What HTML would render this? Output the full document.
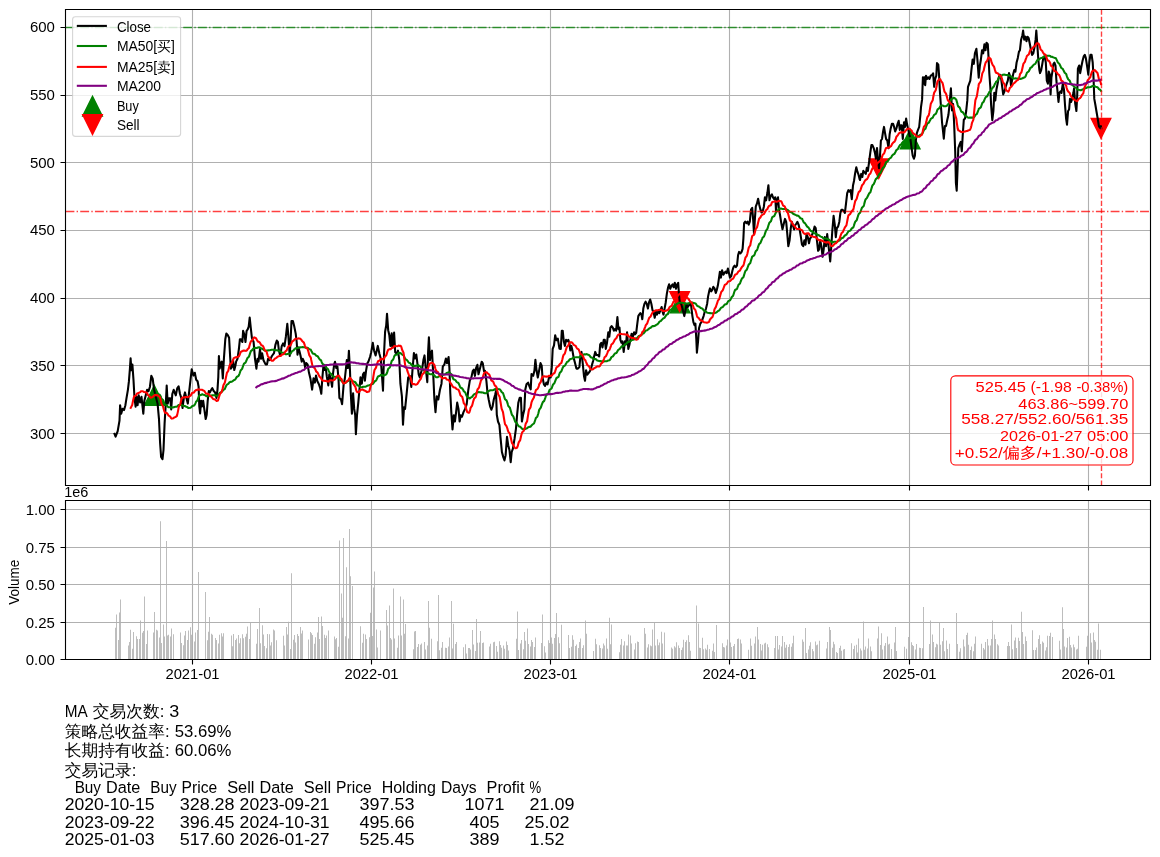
<!DOCTYPE html>
<html><head><meta charset="utf-8"><title>MA strategy</title><style>html,body{margin:0;padding:0;background:#fff;overflow:hidden}svg{display:block}</style></head><body>
<svg width="1160" height="857" viewBox="0 0 1160 857"><rect width="1160" height="857" fill="#fff"/><path d="M115 627.7h1v31.3h-1zM116 614.5h1v44.5h-1zM118 640.1h1v18.9h-1zM119 612.4h1v46.6h-1zM120 599.5h1v59.5h-1zM128 645.5h1v13.5h-1zM129 642.1h1v16.9h-1zM130 629.7h1v29.3h-1zM132 648.7h1v10.3h-1zM133 632.0h1v27.0h-1zM136 636.2h1v22.8h-1zM137 639.0h1v20.0h-1zM139 639.0h1v20.0h-1zM140 620.5h1v38.5h-1zM142 632.8h1v26.2h-1zM143 631.0h1v28.0h-1zM144 596.5h1v62.5h-1zM146 644.1h1v14.9h-1zM147 630.5h1v28.5h-1zM153 632.6h1v26.4h-1zM154 611.9h1v47.1h-1zM156 629.8h1v29.2h-1zM157 630.6h1v28.4h-1zM159 637.5h1v21.5h-1zM160 521.3h1v137.7h-1zM161 642.9h1v16.1h-1zM163 624.5h1v34.5h-1zM164 636.6h1v22.4h-1zM166 541.1h1v117.9h-1zM167 635.4h1v23.6h-1zM168 634.7h1v24.3h-1zM170 636.4h1v22.6h-1zM171 628.4h1v30.6h-1zM173 634.3h1v24.7h-1zM180 632.6h1v26.4h-1zM181 643.0h1v16.0h-1zM183 645.3h1v13.7h-1zM184 635.5h1v23.5h-1zM185 630.9h1v28.1h-1zM187 639.9h1v19.1h-1zM188 630.5h1v28.5h-1zM190 627.2h1v31.8h-1zM191 634.7h1v24.3h-1zM194 641.5h1v17.5h-1zM195 632.5h1v26.5h-1zM197 630.1h1v28.9h-1zM198 572.1h1v86.9h-1zM205 592.0h1v67.0h-1zM207 640.3h1v18.7h-1zM208 631.8h1v27.2h-1zM209 617.1h1v41.9h-1zM211 633.8h1v25.2h-1zM212 634.7h1v24.3h-1zM215 638.1h1v20.9h-1zM216 640.1h1v18.9h-1zM218 643.4h1v15.6h-1zM219 634.8h1v24.2h-1zM221 633.2h1v25.8h-1zM222 636.4h1v22.6h-1zM223 633.3h1v25.7h-1zM231 635.6h1v23.4h-1zM232 646.2h1v12.8h-1zM233 633.9h1v25.1h-1zM235 640.1h1v18.9h-1zM236 638.5h1v20.5h-1zM238 635.1h1v23.9h-1zM239 643.3h1v15.7h-1zM240 638.3h1v20.7h-1zM242 634.2h1v24.8h-1zM243 638.3h1v20.7h-1zM245 636.7h1v22.3h-1zM246 633.7h1v25.3h-1zM247 626.4h1v32.6h-1zM249 638.9h1v20.1h-1zM250 622.9h1v36.1h-1zM256 643.7h1v15.3h-1zM257 629.0h1v30.0h-1zM259 608.0h1v51.0h-1zM260 643.2h1v15.8h-1zM262 625.2h1v33.8h-1zM263 634.5h1v24.5h-1zM264 646.1h1v12.9h-1zM266 648.3h1v10.7h-1zM267 634.1h1v24.9h-1zM269 634.2h1v24.8h-1zM270 645.5h1v13.5h-1zM271 642.3h1v16.7h-1zM273 629.4h1v29.6h-1zM274 630.6h1v28.4h-1zM276 640.2h1v18.8h-1zM283 635.8h1v23.2h-1zM284 645.4h1v13.6h-1zM286 627.1h1v31.9h-1zM287 634.4h1v24.6h-1zM288 621.7h1v37.3h-1zM290 649.0h1v10.0h-1zM291 573.3h1v85.7h-1zM293 639.7h1v19.3h-1zM294 634.9h1v24.1h-1zM295 642.6h1v16.4h-1zM297 633.9h1v25.1h-1zM298 635.9h1v23.1h-1zM300 626.9h1v32.1h-1zM301 633.5h1v25.5h-1zM302 630.4h1v28.6h-1zM308 639.5h1v19.5h-1zM310 632.0h1v27.0h-1zM311 633.3h1v25.7h-1zM312 634.9h1v24.1h-1zM314 643.7h1v15.3h-1zM315 637.3h1v21.7h-1zM317 632.5h1v26.5h-1zM318 617.1h1v41.9h-1zM319 639.0h1v20.0h-1zM321 616.5h1v42.5h-1zM322 626.0h1v33.0h-1zM324 634.8h1v24.2h-1zM325 638.0h1v21.0h-1zM326 635.4h1v23.6h-1zM328 630.4h1v28.6h-1zM334 636.6h1v22.4h-1zM335 639.3h1v19.7h-1zM336 637.9h1v21.1h-1zM338 646.7h1v12.3h-1zM339 540.5h1v118.5h-1zM341 593.5h1v65.5h-1zM342 617.8h1v41.2h-1zM343 537.9h1v121.1h-1zM345 636.2h1v22.8h-1zM346 567.3h1v91.7h-1zM348 638.4h1v20.6h-1zM349 529.1h1v129.9h-1zM350 576.2h1v82.8h-1zM352 586.0h1v73.0h-1zM360 626.2h1v32.8h-1zM362 642.8h1v16.2h-1zM363 633.7h1v25.3h-1zM365 634.5h1v24.5h-1zM366 639.0h1v20.0h-1zM369 637.3h1v21.7h-1zM370 612.8h1v46.2h-1zM372 636.1h1v22.9h-1zM373 587.5h1v71.5h-1zM374 571.4h1v87.6h-1zM376 629.6h1v29.4h-1zM377 647.6h1v11.4h-1zM380 630.4h1v28.6h-1zM386 610.0h1v49.0h-1zM387 625.5h1v33.5h-1zM389 605.5h1v53.5h-1zM390 638.0h1v21.0h-1zM391 639.6h1v19.4h-1zM393 588.4h1v70.6h-1zM394 638.5h1v20.5h-1zM397 647.8h1v11.2h-1zM398 635.4h1v23.6h-1zM400 596.5h1v62.5h-1zM401 635.5h1v23.5h-1zM403 599.5h1v59.5h-1zM404 633.8h1v25.2h-1zM405 624.0h1v35.0h-1zM413 649.2h1v9.8h-1zM414 631.6h1v27.4h-1zM415 631.0h1v28.0h-1zM417 647.0h1v12.0h-1zM418 644.1h1v14.9h-1zM420 644.8h1v14.2h-1zM421 643.5h1v15.5h-1zM424 641.9h1v17.1h-1zM425 649.5h1v9.5h-1zM427 645.5h1v13.5h-1zM428 601.0h1v58.0h-1zM429 627.8h1v31.2h-1zM431 638.8h1v20.2h-1zM437 641.3h1v17.7h-1zM438 595.0h1v64.0h-1zM439 650.2h1v8.8h-1zM441 647.7h1v11.3h-1zM442 642.1h1v16.9h-1zM445 647.8h1v11.2h-1zM446 648.0h1v11.0h-1zM448 646.5h1v12.5h-1zM449 637.4h1v21.6h-1zM451 601.0h1v58.0h-1zM452 648.4h1v10.6h-1zM453 623.7h1v35.3h-1zM455 643.9h1v15.1h-1zM456 642.1h1v16.9h-1zM463 647.3h1v11.7h-1zM465 644.2h1v14.8h-1zM466 653.5h1v5.5h-1zM468 647.9h1v11.1h-1zM469 647.9h1v11.1h-1zM470 649.6h1v9.4h-1zM472 630.0h1v29.0h-1zM473 644.5h1v14.5h-1zM475 651.0h1v8.0h-1zM476 619.0h1v40.0h-1zM477 642.7h1v16.3h-1zM479 642.6h1v16.4h-1zM480 631.1h1v27.9h-1zM482 643.0h1v16.0h-1zM483 642.6h1v16.4h-1zM489 646.4h1v12.6h-1zM490 643.7h1v15.3h-1zM493 642.3h1v16.7h-1zM494 641.8h1v17.2h-1zM496 645.9h1v13.1h-1zM497 651.7h1v7.3h-1zM499 641.3h1v17.7h-1zM500 644.9h1v14.1h-1zM501 647.7h1v11.3h-1zM503 645.6h1v13.4h-1zM504 648.7h1v10.3h-1zM506 641.5h1v17.5h-1zM507 645.1h1v13.9h-1zM508 650.4h1v8.6h-1zM516 638.7h1v20.3h-1zM517 611.5h1v47.5h-1zM518 650.1h1v8.9h-1zM520 643.5h1v15.5h-1zM521 640.0h1v19.0h-1zM523 649.2h1v9.8h-1zM524 632.1h1v26.9h-1zM525 640.8h1v18.2h-1zM527 628.6h1v30.4h-1zM528 644.1h1v14.9h-1zM530 646.6h1v12.4h-1zM531 640.0h1v19.0h-1zM532 642.0h1v17.0h-1zM534 647.0h1v12.0h-1zM535 637.4h1v21.6h-1zM541 643.1h1v15.9h-1zM542 614.5h1v44.5h-1zM544 646.2h1v12.8h-1zM545 652.4h1v6.6h-1zM548 640.3h1v18.7h-1zM549 643.0h1v16.0h-1zM551 637.4h1v21.6h-1zM552 643.7h1v15.3h-1zM554 638.0h1v21.0h-1zM555 634.0h1v25.0h-1zM556 613.0h1v46.0h-1zM558 637.2h1v21.8h-1zM559 643.2h1v15.8h-1zM561 624.8h1v34.2h-1zM568 635.1h1v23.9h-1zM569 647.9h1v11.1h-1zM571 646.7h1v12.3h-1zM572 635.2h1v23.8h-1zM573 639.8h1v19.2h-1zM575 645.9h1v13.1h-1zM576 644.6h1v14.4h-1zM578 648.0h1v11.0h-1zM579 641.9h1v17.1h-1zM580 638.4h1v20.6h-1zM582 648.0h1v11.0h-1zM583 645.3h1v13.7h-1zM585 620.5h1v38.5h-1zM586 633.8h1v25.2h-1zM593 650.9h1v8.1h-1zM595 638.7h1v20.3h-1zM596 644.2h1v14.8h-1zM599 645.3h1v13.7h-1zM600 648.0h1v11.0h-1zM602 648.6h1v10.4h-1zM603 643.6h1v15.4h-1zM604 645.5h1v13.5h-1zM606 638.6h1v20.4h-1zM607 648.7h1v10.3h-1zM609 617.7h1v41.3h-1zM610 644.2h1v14.8h-1zM611 624.6h1v34.4h-1zM619 652.2h1v6.8h-1zM620 644.8h1v14.2h-1zM621 639.0h1v20.0h-1zM623 645.6h1v13.4h-1zM624 641.3h1v17.7h-1zM626 645.6h1v13.4h-1zM627 645.6h1v13.4h-1zM628 634.4h1v24.6h-1zM630 635.5h1v23.5h-1zM631 643.6h1v15.4h-1zM634 649.6h1v9.4h-1zM635 643.3h1v15.7h-1zM637 641.6h1v17.4h-1zM638 642.0h1v17.0h-1zM644 628.0h1v31.0h-1zM645 633.7h1v25.3h-1zM647 647.5h1v11.5h-1zM648 644.3h1v14.7h-1zM650 645.6h1v13.4h-1zM651 646.3h1v12.7h-1zM652 629.5h1v29.5h-1zM654 622.6h1v36.4h-1zM655 645.4h1v13.6h-1zM657 639.3h1v19.7h-1zM658 645.2h1v13.8h-1zM659 642.4h1v16.6h-1zM661 631.7h1v27.3h-1zM662 643.6h1v15.4h-1zM664 632.4h1v26.6h-1zM671 647.6h1v11.4h-1zM672 648.7h1v10.3h-1zM674 646.2h1v12.8h-1zM675 647.6h1v11.4h-1zM676 642.3h1v16.7h-1zM678 645.4h1v13.6h-1zM679 648.1h1v10.9h-1zM681 649.9h1v9.1h-1zM682 647.6h1v11.4h-1zM683 639.7h1v19.3h-1zM685 642.1h1v16.9h-1zM686 640.2h1v18.8h-1zM688 635.3h1v23.7h-1zM689 641.9h1v17.1h-1zM690 650.8h1v8.2h-1zM696 605.5h1v53.5h-1zM698 623.5h1v35.5h-1zM699 647.7h1v11.3h-1zM700 648.1h1v10.9h-1zM702 637.7h1v21.3h-1zM703 649.3h1v9.7h-1zM705 648.6h1v10.4h-1zM706 649.8h1v9.2h-1zM707 644.7h1v14.3h-1zM709 649.1h1v9.9h-1zM712 650.8h1v8.2h-1zM713 643.6h1v15.4h-1zM714 651.9h1v7.1h-1zM716 625.0h1v34.0h-1zM722 643.2h1v15.8h-1zM723 647.0h1v12.0h-1zM724 647.6h1v11.4h-1zM726 645.4h1v13.6h-1zM727 639.4h1v19.6h-1zM730 642.5h1v16.5h-1zM731 647.0h1v12.0h-1zM733 646.0h1v13.0h-1zM734 643.9h1v15.1h-1zM737 639.1h1v19.9h-1zM738 638.6h1v20.4h-1zM740 639.4h1v19.6h-1zM741 643.6h1v15.4h-1zM748 649.8h1v9.2h-1zM750 638.6h1v20.4h-1zM751 645.8h1v13.2h-1zM754 643.4h1v15.6h-1zM755 636.4h1v22.6h-1zM757 627.1h1v31.9h-1zM758 639.6h1v19.4h-1zM760 643.9h1v15.1h-1zM761 650.4h1v8.6h-1zM762 644.8h1v14.2h-1zM764 643.4h1v15.6h-1zM765 642.8h1v16.2h-1zM767 644.3h1v14.7h-1zM768 647.2h1v11.8h-1zM774 648.0h1v11.0h-1zM775 635.9h1v23.1h-1zM777 635.9h1v23.1h-1zM778 649.6h1v9.4h-1zM779 645.0h1v14.0h-1zM781 646.4h1v12.6h-1zM782 635.9h1v23.1h-1zM784 642.0h1v17.0h-1zM785 647.8h1v11.2h-1zM786 644.7h1v14.3h-1zM788 647.1h1v11.9h-1zM789 644.3h1v14.7h-1zM791 646.7h1v12.3h-1zM792 643.2h1v15.8h-1zM793 635.8h1v23.2h-1zM802 639.6h1v19.4h-1zM803 641.7h1v17.3h-1zM805 628.0h1v31.0h-1zM806 653.1h1v5.9h-1zM808 649.4h1v9.6h-1zM809 645.7h1v13.3h-1zM810 642.2h1v16.8h-1zM812 648.9h1v10.1h-1zM813 651.2h1v7.8h-1zM815 641.4h1v17.6h-1zM816 645.3h1v13.7h-1zM817 644.4h1v14.6h-1zM819 640.8h1v18.2h-1zM826 648.5h1v10.5h-1zM827 642.1h1v16.9h-1zM829 627.1h1v31.9h-1zM830 630.0h1v29.0h-1zM832 647.8h1v11.2h-1zM833 641.8h1v17.2h-1zM834 644.2h1v14.8h-1zM836 652.0h1v7.0h-1zM837 653.0h1v6.0h-1zM839 648.1h1v10.9h-1zM840 645.7h1v13.3h-1zM841 650.8h1v8.2h-1zM843 649.5h1v9.5h-1zM844 649.1h1v9.9h-1zM851 643.3h1v15.7h-1zM853 649.1h1v9.9h-1zM854 645.8h1v13.2h-1zM856 644.7h1v14.3h-1zM857 652.4h1v6.6h-1zM858 638.5h1v20.5h-1zM860 648.4h1v10.6h-1zM861 650.6h1v8.4h-1zM863 621.6h1v37.4h-1zM864 649.7h1v9.3h-1zM865 646.6h1v12.4h-1zM867 648.5h1v10.5h-1zM868 638.5h1v20.5h-1zM870 646.5h1v12.5h-1zM871 651.2h1v7.8h-1zM877 638.6h1v20.4h-1zM878 626.5h1v32.5h-1zM880 645.1h1v13.9h-1zM881 633.3h1v25.7h-1zM882 649.6h1v9.4h-1zM884 645.7h1v13.3h-1zM885 642.9h1v16.1h-1zM887 636.4h1v22.6h-1zM888 644.5h1v14.5h-1zM889 643.7h1v15.3h-1zM891 648.9h1v10.1h-1zM894 642.4h1v16.6h-1zM895 626.9h1v32.1h-1zM896 650.9h1v8.1h-1zM904 646.8h1v12.2h-1zM906 648.8h1v10.2h-1zM908 637.1h1v21.9h-1zM909 642.1h1v16.9h-1zM911 642.2h1v16.8h-1zM912 645.1h1v13.9h-1zM913 646.0h1v13.0h-1zM915 649.4h1v9.6h-1zM916 644.1h1v14.9h-1zM919 647.7h1v11.3h-1zM920 647.9h1v11.1h-1zM922 648.2h1v10.8h-1zM923 607.0h1v52.0h-1zM929 644.1h1v14.9h-1zM930 620.5h1v38.5h-1zM932 634.4h1v24.6h-1zM933 641.9h1v17.1h-1zM935 647.3h1v11.7h-1zM936 643.8h1v15.2h-1zM937 644.4h1v14.6h-1zM939 621.9h1v37.1h-1zM940 644.8h1v14.2h-1zM942 641.2h1v17.8h-1zM943 628.0h1v31.0h-1zM944 651.2h1v7.8h-1zM946 640.5h1v18.5h-1zM947 648.9h1v10.1h-1zM949 643.8h1v15.2h-1zM956 613.0h1v46.0h-1zM957 643.9h1v15.1h-1zM959 651.8h1v7.2h-1zM960 648.2h1v10.8h-1zM963 639.5h1v19.5h-1zM964 646.5h1v12.5h-1zM966 634.9h1v24.1h-1zM967 632.8h1v26.2h-1zM968 644.8h1v14.2h-1zM970 650.1h1v8.9h-1zM971 646.6h1v12.4h-1zM973 651.3h1v7.7h-1zM974 643.8h1v15.2h-1zM975 636.5h1v22.5h-1zM981 643.8h1v15.2h-1zM983 648.0h1v11.0h-1zM984 649.4h1v9.6h-1zM985 642.1h1v16.9h-1zM987 639.1h1v19.9h-1zM988 645.6h1v13.4h-1zM990 645.4h1v13.6h-1zM991 639.1h1v19.9h-1zM992 620.5h1v38.5h-1zM994 634.4h1v24.6h-1zM995 638.9h1v20.1h-1zM997 644.2h1v14.8h-1zM998 645.6h1v13.4h-1zM1007 645.9h1v13.1h-1zM1008 642.1h1v16.9h-1zM1009 646.0h1v13.0h-1zM1011 624.5h1v34.5h-1zM1012 649.3h1v9.7h-1zM1014 640.4h1v18.6h-1zM1015 637.6h1v21.4h-1zM1016 648.0h1v11.0h-1zM1018 637.7h1v21.3h-1zM1019 641.0h1v18.0h-1zM1021 611.8h1v47.2h-1zM1022 631.9h1v27.1h-1zM1023 643.9h1v15.1h-1zM1025 636.5h1v22.5h-1zM1026 641.0h1v18.0h-1zM1032 630.3h1v28.7h-1zM1033 650.1h1v8.9h-1zM1035 650.0h1v9.0h-1zM1036 647.6h1v11.4h-1zM1038 638.9h1v20.1h-1zM1039 635.3h1v23.7h-1zM1040 644.1h1v14.9h-1zM1042 641.6h1v17.4h-1zM1043 642.8h1v16.2h-1zM1045 650.6h1v8.4h-1zM1046 647.3h1v11.7h-1zM1047 635.8h1v23.2h-1zM1049 636.1h1v22.9h-1zM1050 632.8h1v26.2h-1zM1052 637.0h1v22.0h-1zM1059 640.8h1v18.2h-1zM1060 649.5h1v9.5h-1zM1062 607.2h1v51.8h-1zM1063 629.0h1v30.0h-1zM1064 646.5h1v12.5h-1zM1066 647.5h1v11.5h-1zM1067 638.1h1v20.9h-1zM1069 636.8h1v22.2h-1zM1070 644.9h1v14.1h-1zM1071 647.5h1v11.5h-1zM1073 644.4h1v14.6h-1zM1074 647.2h1v11.8h-1zM1076 649.6h1v9.4h-1zM1077 648.7h1v10.3h-1zM1078 635.8h1v23.2h-1zM1086 646.7h1v12.3h-1zM1087 635.7h1v23.3h-1zM1088 646.8h1v12.2h-1zM1090 633.2h1v25.8h-1zM1091 642.6h1v16.4h-1zM1093 632.4h1v26.6h-1zM1094 640.1h1v18.9h-1zM1095 641.8h1v17.2h-1zM1097 649.7h1v9.3h-1zM1098 623.5h1v35.5h-1zM1100 649.7h1v9.3h-1z" fill="#bdbdbd"/><path d="M192.50 9.50V485.50M192.50 500.50V659.50M371.50 9.50V485.50M371.50 500.50V659.50M550.50 9.50V485.50M550.50 500.50V659.50M729.50 9.50V485.50M729.50 500.50V659.50M909.50 9.50V485.50M909.50 500.50V659.50M1088.50 9.50V485.50M1088.50 500.50V659.50M65.50 433.50H1150.50M65.50 365.50H1150.50M65.50 298.50H1150.50M65.50 230.50H1150.50M65.50 162.50H1150.50M65.50 95.50H1150.50M65.50 27.50H1150.50M65.50 622.50H1150.50M65.50 584.50H1150.50M65.50 547.50H1150.50M65.50 509.50H1150.50" stroke="#b0b0b0" stroke-width="1.11" fill="none"/><path d="M154.28 385.59L144.48 405.19L164.08 405.19ZM680.11 293.27L670.31 312.87L689.91 312.87ZM910.17 129.19L900.37 148.79L919.97 148.79Z" fill="#008000" stroke="#008000" stroke-width="1.39" stroke-linejoin="miter"/><path d="M679.62 311.41L669.82 291.81L689.42 291.81ZM878.77 178.51L868.97 158.91L888.57 158.91ZM1100.98 138.16L1091.18 118.56L1110.78 118.56Z" fill="#ff0000" stroke="#ff0000" stroke-width="1.39" stroke-linejoin="miter"/><polyline points="114.5,433.9 115.6,436.7 117.7,431.1 119.5,420.6 120.1,405.2 121.2,413.6 122.6,408.7 124.0,410.1 125.4,405.2 126.5,398.2 127.9,389.8 128.9,381.4 129.9,368.8 130.6,358.3 131.4,370.2 132.4,364.6 133.5,380.0 134.5,398.2 135.6,406.6 136.6,396.8 137.6,405.2 138.7,395.4 140.1,402.4 141.5,396.8 143.3,413.6 144.3,401.0 145.7,395.4 147.1,389.8 148.5,391.2 149.9,387.0 151.3,375.8 152.7,378.6 154.1,389.8 155.5,395.4 157.6,403.8 159.0,419.2 160.1,443.0 161.1,457.0 162.5,459.1 163.5,450.0 164.6,423.4 166.0,399.6 166.7,385.6 167.7,403.8 168.8,398.2 170.2,398.2 171.2,409.4 172.3,394.0 173.7,389.8 174.7,392.6 175.8,395.4 177.2,388.4 178.6,386.3 180.0,394.0 181.4,398.2 182.5,408.0 184.2,395.4 185.0,392.4 186.4,398.0 187.8,403.6 191.7,369.3 193.4,375.6 194.8,372.8 196.2,379.8 197.6,381.2 198.6,386.8 199.3,406.4 200.1,413.4 201.1,400.8 202.1,406.4 203.2,400.8 204.3,409.2 205.7,419.0 206.7,414.8 207.7,400.8 208.8,391.0 209.9,392.4 211.3,389.6 212.3,388.2 213.7,391.0 215.1,392.4 216.5,398.0 217.5,389.6 218.3,377.0 218.9,356.0 219.7,368.6 220.7,363.0 221.7,361.6 222.8,378.4 223.9,358.8 225.3,339.2 226.3,333.6 227.7,335.0 229.1,337.8 230.1,356.0 230.9,368.6 231.9,367.2 233.0,360.2 234.3,370.0 235.4,365.8 236.1,361.6 237.5,358.8 238.9,349.0 239.9,339.2 241.0,339.2 242.4,342.0 243.1,330.8 244.5,335.0 245.5,342.0 246.6,330.8 247.7,329.4 248.7,326.6 249.7,317.5 250.8,328.0 251.9,337.8 253.6,342.0 255.0,358.8 256.4,368.6 257.5,358.8 258.5,361.6 260.0,349.0 261.1,358.8 262.1,353.2 263.5,360.2 265.6,364.4 267.0,364.4 268.1,358.8 269.8,360.2 271.9,356.0 274.0,353.2 275.4,344.8 276.8,340.6 277.9,342.0 278.9,350.4 280.3,356.0 281.7,346.2 283.1,343.4 284.5,346.2 285.9,336.4 287.3,323.8 288.4,336.4 289.7,356.0 290.5,342.0 291.5,321.0 292.9,321.0 294.3,326.6 295.7,333.6 296.7,342.0 297.5,354.6 298.5,347.6 299.6,351.8 300.6,356.0 301.7,361.6 302.7,358.8 304.1,361.6 305.1,367.2 306.2,363.0 307.6,364.4 309.0,372.8 310.4,378.4 312.1,389.6 313.5,378.4 314.9,382.6 316.0,375.6 317.4,381.2 318.8,384.0 320.2,388.2 321.3,393.8 322.3,378.4 323.3,367.2 324.4,370.0 325.5,365.8 326.9,377.0 328.3,385.4 329.3,374.2 330.7,378.4 332.1,386.8 333.1,372.8 334.2,364.4 335.0,361.7 336.3,368.0 337.4,366.4 338.5,379.0 339.4,397.9 341.0,399.5 342.1,404.2 343.7,383.7 344.8,379.0 346.0,368.0 346.8,360.1 347.9,368.0 348.9,350.7 350.0,371.1 350.7,391.6 351.9,413.7 353.1,393.2 354.2,408.9 355.2,415.2 355.9,434.1 357.0,415.2 358.3,402.6 359.4,390.0 360.5,377.4 361.8,383.7 363.0,374.3 364.1,372.7 364.9,380.6 366.0,371.1 367.3,363.3 368.4,361.7 370.0,357.0 371.2,352.2 372.8,342.8 374.1,350.7 375.6,355.4 376.7,350.7 377.8,345.9 379.4,353.8 380.7,358.5 381.9,374.3 383.0,390.8 384.1,352.2 385.1,331.8 386.2,325.5 387.0,313.7 388.2,330.2 389.3,334.9 390.4,345.9 391.7,333.3 392.5,347.5 394.1,332.6 395.2,352.2 396.7,353.8 398.0,350.7 399.3,360.1 400.4,383.7 401.9,396.3 403.0,424.7 404.0,407.4 405.1,408.9 406.7,393.2 408.2,377.4 409.8,375.9 411.3,386.9 412.4,371.1 413.9,353.0 415.0,358.5 416.3,354.6 417.6,364.8 418.7,374.3 419.8,377.4 421.0,372.7 422.3,368.0 423.4,360.1 424.5,355.4 425.7,368.0 427.3,382.2 428.1,352.2 428.9,337.3 430.0,360.1 431.3,352.2 432.0,350.7 433.3,375.9 434.4,399.5 435.5,412.1 436.8,396.3 438.3,399.5 439.9,390.0 441.5,383.7 442.8,366.4 444.3,364.8 445.9,358.5 447.0,363.3 448.6,357.0 449.4,368.0 450.3,393.2 451.3,412.1 452.5,429.4 453.8,415.2 454.9,421.5 456.1,412.1 457.2,402.6 458.5,408.9 459.6,421.5 460.7,415.2 462.0,416.8 463.5,412.1 465.1,408.9 466.7,404.2 468.3,390.0 469.8,380.6 471.4,377.4 472.7,371.1 473.8,369.6 474.9,375.9 476.1,368.0 477.4,364.8 478.5,374.3 480.1,368.0 481.7,361.7 482.8,363.3 484.0,371.1 485.0,370.8 486.4,380.9 487.5,392.8 488.7,399.5 490.1,406.3 491.4,409.7 492.6,406.3 493.8,399.5 495.2,394.5 496.0,391.1 496.8,414.8 498.0,421.5 499.4,424.9 500.6,438.4 501.9,452.0 503.3,457.1 504.5,460.4 505.6,455.4 507.0,436.8 508.2,445.2 509.5,450.3 510.7,462.1 511.7,452.0 512.9,448.6 514.6,438.4 516.0,428.3 517.1,414.8 518.3,402.9 519.7,397.8 520.9,397.8 521.9,421.5 523.1,414.8 524.3,409.7 525.3,389.4 526.5,384.3 528.1,382.6 529.3,386.0 530.7,389.4 531.5,374.1 533.2,375.8 534.4,370.8 535.4,359.8 536.6,370.8 537.8,377.5 539.1,370.8 540.5,363.1 541.7,365.7 542.5,377.5 543.9,384.3 545.1,386.0 546.3,382.6 547.6,384.3 549.0,377.5 550.7,377.5 551.8,367.4 552.7,348.8 554.0,345.4 555.2,335.2 556.4,340.3 557.8,338.6 559.5,348.8 560.8,348.9 561.8,330.7 562.7,330.7 563.8,341.3 564.9,345.9 566.1,339.8 567.3,341.3 568.3,339.8 569.4,342.8 570.3,350.4 571.4,345.9 572.4,350.4 573.7,358.0 574.9,362.6 576.4,368.6 577.9,368.6 579.4,367.1 580.5,355.0 581.5,351.9 582.8,364.1 584.0,376.2 585.0,380.8 586.1,370.2 587.3,374.7 588.5,373.2 589.6,371.7 591.1,368.6 592.2,364.1 593.1,361.0 594.1,356.5 595.2,351.9 596.4,355.0 597.9,355.0 599.2,356.5 600.2,344.4 601.3,342.8 602.5,347.4 603.7,339.8 604.8,339.8 605.8,348.9 607.0,342.8 608.3,332.2 609.3,336.8 610.4,327.7 611.6,326.1 612.8,327.7 613.9,330.7 614.9,329.2 616.1,330.7 617.4,317.0 618.4,329.2 619.5,327.7 620.4,339.8 621.5,342.8 622.5,341.3 623.7,351.9 624.9,341.3 626.0,344.4 627.1,332.2 628.3,348.9 629.5,344.4 630.6,338.3 631.6,333.7 632.8,336.8 634.1,332.2 635.0,334.4 636.2,332.8 637.3,323.7 638.3,316.1 639.2,314.6 640.3,313.1 641.4,314.6 642.3,319.2 643.3,308.6 644.4,304.0 645.6,301.7 646.8,304.0 647.9,308.6 649.0,302.5 650.2,299.5 651.4,304.0 652.5,310.1 653.5,311.6 654.7,317.7 655.9,311.6 657.0,314.6 658.1,311.6 659.3,313.1 660.5,310.1 661.6,307.0 662.6,311.6 663.5,314.6 664.6,308.6 665.7,302.5 666.9,293.4 668.1,287.3 669.1,284.3 670.2,288.8 671.4,285.8 672.6,284.3 673.7,287.3 674.8,282.8 676.0,288.8 677.2,284.3 678.2,282.8 679.0,294.9 679.7,301.6 680.2,303.1 681.3,304.0 682.8,310.1 684.3,316.1 685.5,310.1 686.6,304.0 687.8,307.0 688.9,305.5 689.9,302.5 691.1,305.5 692.4,316.1 693.4,322.2 694.5,325.2 695.4,323.7 696.3,338.9 696.9,352.6 698.0,341.9 699.0,328.3 700.3,323.7 701.5,322.2 702.5,319.2 703.6,316.1 704.8,311.6 706.0,308.6 707.1,304.0 708.1,296.4 709.4,290.3 710.0,288.4 711.2,291.4 712.3,289.9 713.3,286.8 714.6,288.4 715.8,292.9 716.8,289.9 717.9,285.3 718.8,279.3 719.9,271.7 720.9,277.7 722.1,270.2 723.4,274.7 724.4,273.2 725.5,271.7 726.7,273.2 727.9,268.6 729.0,273.2 730.0,277.7 731.2,276.2 732.5,270.2 733.5,267.1 734.6,265.6 735.8,267.1 737.0,265.6 738.1,255.0 739.1,251.9 740.3,253.5 741.6,251.9 742.6,248.9 743.4,238.3 744.1,223.1 745.2,221.6 746.4,223.1 747.6,221.6 748.7,224.6 749.8,221.6 751.0,209.5 752.2,207.9 753.2,220.1 754.0,233.7 754.9,218.6 755.8,206.4 757.0,203.4 758.1,198.8 759.3,204.9 760.4,209.5 761.6,212.5 762.8,211.0 763.9,206.4 764.9,197.3 766.1,200.3 767.4,192.8 768.4,185.2 769.5,200.3 770.7,195.8 771.9,194.3 773.0,197.3 774.0,198.8 775.3,197.3 776.0,211.0 776.8,200.3 778.0,197.3 779.0,209.5 780.1,215.5 781.3,223.1 782.5,229.2 783.6,224.6 784.7,220.1 785.0,218.9 786.2,221.9 787.3,234.1 788.3,246.2 789.6,240.2 790.8,228.0 791.8,221.9 792.9,225.0 794.1,229.5 795.3,225.0 796.4,223.5 797.4,221.9 798.7,225.0 799.9,231.0 800.9,237.1 802.0,244.7 803.2,246.2 804.4,240.2 805.5,244.7 806.5,234.1 807.8,237.1 809.0,243.2 810.0,238.6 811.1,237.1 812.3,234.1 813.5,231.0 814.6,226.5 815.7,228.0 816.9,240.2 818.1,250.8 819.1,249.3 820.2,240.2 821.4,246.2 822.6,256.8 823.7,249.3 824.8,237.1 826.0,246.2 827.2,234.1 828.2,243.2 829.3,252.3 830.2,261.4 831.3,246.2 832.3,231.0 833.6,215.9 834.8,225.0 835.8,237.1 836.9,228.0 838.1,226.5 839.3,221.9 840.4,212.8 841.4,209.8 842.7,209.8 843.9,211.3 844.9,212.8 846.0,203.7 847.2,193.1 848.4,190.1 849.5,191.6 850.6,190.1 851.8,199.2 853.0,185.5 854.0,181.0 855.1,173.4 856.3,167.3 857.5,171.9 858.6,174.9 859.7,179.5 860.0,180.0 861.2,173.9 862.3,177.0 863.3,170.9 864.6,172.4 865.8,173.9 866.8,167.8 867.9,170.9 869.1,161.8 870.3,152.7 871.4,145.1 872.4,145.1 873.7,148.1 874.9,152.7 875.9,158.7 877.0,148.1 877.9,158.7 879.0,168.2 880.0,155.7 880.9,140.5 882.0,139.0 883.1,131.4 884.0,126.9 885.0,132.9 886.1,139.0 887.3,140.5 888.5,148.1 889.6,134.5 890.7,128.4 891.9,123.8 893.1,123.8 894.1,126.9 895.2,131.4 896.4,128.4 897.6,123.8 898.7,120.8 899.8,129.9 900.7,125.3 901.7,125.3 902.8,139.0 904.0,122.3 905.1,126.9 906.1,118.5 907.0,123.8 908.3,129.9 909.3,134.5 910.4,139.0 911.6,148.1 912.7,155.7 913.9,158.7 914.9,155.7 915.8,140.5 916.9,132.9 918.0,129.9 919.2,126.9 920.4,114.7 921.0,107.2 922.1,99.4 922.9,77.3 923.7,83.6 924.4,77.3 925.2,85.2 926.0,75.7 927.3,78.9 928.4,77.3 929.5,78.9 930.7,75.7 932.0,75.0 933.1,73.4 934.2,86.8 935.2,78.9 936.3,75.7 937.0,63.1 938.3,64.7 939.1,75.7 939.9,91.5 941.0,107.2 942.1,123.0 943.0,130.9 943.8,138.7 944.9,126.1 946.0,126.1 947.3,119.8 948.4,115.1 949.6,104.1 950.9,88.3 952.0,110.4 953.1,104.1 954.1,123.0 955.2,151.3 955.9,182.8 956.7,190.7 957.5,170.2 958.3,148.2 959.4,145.0 960.7,141.9 961.8,151.3 962.7,135.6 963.8,119.8 965.0,118.6 966.2,111.0 967.3,100.4 968.0,86.8 969.2,83.7 970.3,80.7 971.4,70.1 972.6,59.5 973.8,64.0 974.9,53.4 976.4,48.8 977.4,59.5 978.7,77.7 979.9,65.5 980.9,59.5 982.0,50.3 983.2,53.4 984.4,44.3 985.5,50.3 986.5,42.8 987.8,44.3 988.5,56.4 989.3,73.1 990.3,86.8 991.1,105.0 992.3,120.2 993.4,111.0 994.3,92.8 995.3,100.4 996.4,89.8 997.6,83.7 998.7,77.7 999.9,74.6 1001.0,77.7 1002.2,86.8 1003.2,94.4 1004.5,91.3 1005.7,86.8 1006.7,83.7 1007.8,80.7 1009.0,73.1 1010.1,76.1 1011.0,85.3 1012.0,80.7 1013.1,74.6 1014.3,70.1 1015.4,71.6 1016.6,62.5 1017.8,57.9 1018.9,51.9 1019.9,50.3 1021.1,39.7 1022.4,35.2 1023.1,30.6 1024.2,39.7 1025.4,36.7 1026.5,41.2 1027.5,36.7 1028.7,38.2 1029.9,44.3 1031.0,50.3 1032.1,54.9 1033.3,53.4 1034.5,47.3 1035.6,39.7 1036.3,30.6 1037.4,45.8 1038.3,59.5 1039.4,70.1 1040.0,73.1 1041.2,70.1 1042.3,64.0 1043.3,57.9 1044.6,56.4 1045.8,62.5 1046.8,80.7 1047.9,83.7 1048.8,71.6 1049.9,74.6 1050.6,94.4 1051.4,77.7 1052.4,71.6 1053.4,64.0 1054.4,62.5 1055.5,65.5 1056.4,80.7 1057.5,91.3 1058.5,101.9 1059.4,92.8 1060.5,91.3 1061.5,92.8 1062.8,83.7 1064.0,89.8 1065.0,105.0 1066.1,118.6 1067.0,124.7 1068.1,111.0 1069.1,109.5 1070.0,98.9 1071.1,101.9 1072.2,98.9 1073.4,92.8 1074.1,88.3 1075.2,103.5 1076.4,111.0 1077.2,95.9 1077.9,68.6 1079.2,65.5 1080.2,73.1 1081.3,67.0 1082.5,61.0 1083.7,56.4 1084.8,54.9 1085.8,57.9 1087.0,65.5 1088.3,74.6 1089.3,62.5 1090.4,54.9 1091.6,54.9 1092.7,62.5 1093.4,74.6 1094.3,98.9 1095.4,105.0 1096.4,111.0 1097.7,118.6 1098.9,126.2 1099.9,127.7 1100.9,126.2 1101.3,128.4" fill="none" stroke="#000" stroke-width="2.08" stroke-linejoin="round" stroke-linecap="square"/><polyline points="149.4,402.7 149.9,401.7 150.4,400.6 150.8,399.5 151.3,398.3 152.8,397.3 153.3,396.4 153.8,395.7 154.3,395.2 154.8,394.8 156.2,394.6 156.7,394.4 157.2,394.3 157.7,394.2 158.2,394.2 159.7,394.7 160.2,395.5 160.7,396.4 161.1,397.6 161.6,398.8 163.1,400.0 163.6,401.3 164.1,402.5 164.6,403.6 165.1,404.6 166.5,405.2 167.0,405.7 167.5,406.3 168.0,406.9 168.5,407.2 170.0,407.3 170.5,407.3 171.0,407.5 171.4,407.6 171.9,407.5 173.4,407.4 173.9,407.2 174.4,407.0 175.4,406.8 176.8,406.7 177.3,406.3 177.8,405.8 178.3,405.3 178.8,405.0 180.3,404.9 180.8,404.9 181.3,405.0 181.7,405.2 182.2,405.5 183.7,405.7 184.2,405.9 184.7,406.0 185.2,406.2 185.7,406.5 187.1,407.0 187.6,407.5 188.1,407.8 188.6,408.0 190.6,407.7 191.1,407.3 191.6,406.8 192.0,406.2 194.0,405.6 194.5,405.0 195.0,404.2 195.5,403.1 196.0,401.8 197.4,400.4 197.9,398.9 198.4,397.5 198.9,396.3 199.4,395.5 201.4,394.8 201.9,394.5 202.3,394.3 202.8,394.5 204.3,394.9 204.8,395.1 205.3,395.4 205.8,395.8 206.3,396.2 207.7,396.1 208.2,395.9 208.7,395.6 209.2,395.5 209.7,395.5 211.2,395.5 211.7,395.5 212.2,395.3 212.6,395.3 213.1,395.3 215.1,395.4 215.6,395.6 216.1,395.8 216.6,395.8 218.0,395.5 218.5,394.9 219.0,394.1 219.5,393.3 220.0,392.6 221.5,392.0 222.0,391.4 222.5,391.0 222.9,390.6 223.4,389.9 224.9,388.8 225.4,387.5 225.9,386.3 226.4,385.4 226.9,384.6 228.3,383.9 228.8,383.2 229.3,382.6 229.8,382.1 230.3,381.9 231.8,381.7 232.3,381.4 232.8,381.0 233.3,380.6 233.7,380.2 235.2,379.6 235.7,378.7 236.2,377.9 236.7,377.0 238.6,375.9 239.1,374.8 239.6,373.5 240.1,372.0 240.6,370.5 242.1,368.9 242.6,367.4 243.1,366.0 243.6,364.7 244.0,363.6 245.5,362.6 246.0,361.5 246.5,360.3 247.0,359.1 247.5,358.0 248.9,356.7 249.4,355.3 249.9,353.8 250.4,352.4 250.9,351.1 252.4,349.9 252.9,349.1 253.4,348.5 253.9,348.3 254.3,348.0 255.8,347.9 256.3,348.0 256.8,348.0 257.3,347.8 257.8,347.5 259.2,347.2 259.7,347.4 260.2,347.6 260.7,348.0 261.2,348.5 262.7,348.9 263.2,349.4 263.7,349.8 264.2,350.2 264.6,350.5 266.6,350.6 267.1,350.5 267.6,350.4 268.1,350.4 269.5,350.3 270.0,350.2 270.5,350.1 271.0,349.9 271.5,349.8 273.0,349.7 273.5,349.8 274.0,349.9 274.5,350.1 274.9,350.2 276.4,350.3 276.9,350.3 277.4,350.3 277.9,350.5 278.4,350.8 279.8,351.2 280.3,351.5 280.8,351.8 281.3,352.2 281.8,352.5 283.8,352.8 284.3,353.2 284.8,353.7 285.2,354.1 286.7,354.2 287.2,354.1 287.7,353.9 288.2,353.8 288.7,353.8 290.2,353.8 290.6,353.6 291.1,352.9 291.6,351.9 292.1,351.1 293.6,350.3 294.1,349.6 294.6,349.1 295.1,348.7 295.5,348.3 297.0,348.1 297.5,348.1 298.0,348.0 298.5,347.8 299.0,347.5 300.5,347.4 300.9,347.3 301.4,347.2 301.9,347.2 302.4,347.1 303.9,347.2 304.4,347.2 304.9,347.4 305.4,347.5 305.8,347.6 307.3,347.8 307.8,348.0 308.3,348.3 308.8,348.7 309.3,349.1 310.8,349.8 311.2,350.7 311.7,351.6 312.2,352.5 312.7,353.4 314.7,354.1 315.2,354.6 315.7,355.1 316.1,355.6 317.6,356.2 318.1,356.9 318.6,357.7 319.1,358.5 319.6,359.3 321.1,360.4 321.5,361.6 322.0,362.7 322.5,363.7 323.0,364.4 324.5,365.0 325.0,365.4 325.5,365.9 326.0,366.8 326.4,367.8 327.9,369.0 328.4,370.3 328.9,371.3 329.4,372.2 329.9,373.2 331.4,374.1 331.8,374.9 332.3,375.5 332.8,376.0 333.3,376.5 334.8,376.7 335.3,376.9 335.8,377.0 336.3,377.2 336.7,377.3 338.2,377.6 338.7,378.1 339.2,378.7 339.7,379.3 340.2,380.0 341.7,380.8 342.1,381.5 342.6,382.2 343.1,382.6 343.6,382.9 345.1,382.9 345.6,382.8 346.1,382.4 346.6,381.9 347.1,381.4 348.5,380.8 349.0,380.3 349.5,379.9 350.0,379.7 350.5,379.9 352.0,380.6 352.4,381.0 352.9,381.2 353.9,381.6 355.4,382.3 355.9,383.1 356.4,383.9 356.9,384.6 357.4,385.3 358.8,385.8 359.3,386.2 359.8,386.6 360.3,386.9 360.8,387.0 362.3,387.2 362.7,387.0 363.2,386.8 363.7,386.7 364.2,386.7 365.7,386.7 366.2,386.4 366.7,386.1 367.2,385.7 369.1,385.3 369.6,385.1 370.1,385.0 370.6,384.8 371.1,384.5 372.6,384.1 373.0,383.6 373.5,383.0 374.0,382.4 374.5,381.5 376.0,380.6 376.5,379.7 377.0,378.6 377.5,377.5 378.0,376.5 379.9,375.8 380.4,375.3 380.9,374.9 381.4,374.9 382.9,375.3 383.3,375.6 383.8,375.6 384.3,375.4 384.8,375.1 386.3,374.3 386.8,373.3 387.3,371.9 387.8,370.1 388.3,368.7 389.7,367.5 390.2,366.3 390.7,364.8 391.2,362.8 391.7,361.0 393.2,359.5 393.7,358.0 394.1,356.7 394.6,355.7 395.1,355.0 397.1,354.5 397.6,354.0 398.1,353.4 398.6,352.9 400.0,353.0 400.5,353.2 401.0,353.5 401.5,353.9 402.0,354.5 403.5,355.5 404.0,356.3 404.4,357.3 404.9,358.3 405.4,359.3 406.9,360.0 407.4,360.7 407.9,361.4 408.4,362.1 408.9,362.7 410.3,363.3 410.8,363.9 411.3,364.6 411.8,365.1 412.3,365.6 413.8,365.7 414.3,365.9 414.7,365.9 415.2,365.9 415.7,365.8 417.2,365.7 417.7,365.2 418.2,365.1 418.7,365.3 419.2,365.9 420.6,366.6 421.1,367.6 421.6,368.7 422.1,369.7 424.1,370.3 424.6,370.9 425.0,371.3 425.5,371.7 426.0,372.3 427.5,373.0 428.0,373.5 428.5,373.6 429.0,373.6 429.5,373.9 430.9,374.2 431.4,374.2 431.9,374.1 432.4,374.3 432.9,374.6 434.4,375.5 434.9,376.1 435.3,376.6 435.8,377.0 436.3,377.2 437.8,377.2 438.3,376.8 438.8,376.6 439.3,376.3 439.8,375.9 441.2,375.5 441.7,375.3 442.2,375.1 442.7,374.8 443.2,374.6 445.2,374.3 445.6,373.9 446.1,373.4 446.6,372.9 448.1,372.5 448.6,372.2 449.1,372.3 449.6,372.7 450.1,373.3 451.5,374.4 452.0,375.8 452.5,377.1 453.0,378.3 453.5,379.3 455.5,380.1 455.9,380.9 456.4,381.6 456.9,382.2 458.4,383.0 458.9,383.9 459.4,385.1 459.9,386.4 460.4,387.5 462.3,388.5 462.8,389.4 463.3,390.1 463.8,391.2 465.3,392.5 465.8,393.9 466.2,395.0 466.7,396.0 467.2,396.9 468.7,397.7 469.2,398.2 469.7,398.5 470.2,398.1 470.7,397.6 472.1,396.8 472.6,396.1 473.1,395.5 473.6,394.9 474.1,394.3 475.6,393.8 476.1,393.3 476.5,392.8 477.0,392.5 477.5,392.2 479.0,392.1 479.5,392.2 480.0,392.2 480.5,392.3 481.0,392.4 482.4,392.5 482.9,392.6 483.4,392.7 483.9,393.0 484.4,393.1 485.9,393.2 486.4,393.1 486.8,392.5 487.3,391.9 487.8,391.2 489.3,390.8 489.8,390.5 490.3,390.3 490.8,390.2 491.3,390.2 493.2,390.1 493.7,390.0 494.2,389.7 494.7,389.2 496.2,388.7 496.7,388.6 497.1,388.6 497.6,388.7 498.1,388.9 499.6,389.2 500.1,389.7 500.6,390.3 501.1,391.1 501.6,392.0 503.0,393.1 503.5,394.5 504.0,396.0 504.5,397.6 505.0,399.2 506.5,400.4 507.0,401.7 507.5,403.1 507.9,404.5 508.4,406.1 509.9,407.7 510.4,409.5 510.9,411.3 511.4,413.1 511.9,414.8 513.3,416.4 513.8,417.8 514.3,419.2 514.8,420.6 515.3,421.9 516.8,423.0 517.3,424.0 517.8,424.9 518.2,425.6 518.7,426.2 520.2,426.8 520.7,427.2 521.2,427.7 521.7,428.3 522.2,428.9 523.6,429.2 524.1,429.4 524.6,429.3 525.1,429.1 525.6,428.7 527.1,428.2 527.6,427.8 528.1,427.4 528.5,427.1 529.0,426.9 530.5,426.8 531.0,426.2 531.5,425.4 532.5,424.5 533.9,423.5 534.4,422.4 534.9,421.0 535.4,419.5 535.9,417.9 537.4,416.4 537.9,414.8 538.4,413.2 538.8,411.4 539.3,409.6 540.8,407.7 541.3,406.2 541.8,404.7 542.3,403.4 542.8,402.1 544.2,400.9 544.7,399.5 545.2,398.1 545.7,396.5 546.2,395.1 548.2,393.7 548.7,392.4 549.1,391.1 549.6,389.8 551.6,388.5 552.1,387.0 552.6,385.7 553.1,384.4 554.5,383.0 555.0,381.7 555.5,380.4 556.0,379.2 556.5,378.0 558.5,376.8 559.0,375.4 559.4,374.0 559.9,372.7 561.4,371.2 561.9,369.8 562.4,368.5 562.9,367.4 563.4,366.5 564.8,365.7 565.3,365.0 565.8,364.1 566.3,363.2 566.8,362.2 568.3,361.4 568.8,360.7 569.3,360.0 569.7,359.5 570.2,359.1 571.7,358.7 572.2,358.5 572.7,358.3 573.2,357.9 573.7,357.5 575.6,357.3 576.1,357.2 576.6,357.2 577.1,357.3 578.6,357.3 579.1,357.4 579.6,357.2 580.0,356.8 580.5,356.2 582.0,355.6 582.5,355.1 583.0,354.8 583.5,354.5 584.0,354.4 585.4,354.4 585.9,354.3 586.4,354.1 586.9,354.2 587.4,354.5 588.9,354.9 589.4,355.4 589.9,356.0 590.3,356.7 590.8,357.3 592.3,357.8 592.8,358.3 593.3,358.6 593.8,358.9 594.3,359.0 595.7,359.1 596.2,359.4 596.7,359.9 597.2,360.4 599.2,360.9 599.7,361.2 600.2,361.1 600.6,361.1 601.1,361.2 602.6,361.3 603.1,361.4 603.6,361.4 604.1,361.4 604.6,361.3 606.0,361.3 606.5,361.2 607.0,361.2 607.5,360.9 608.0,360.6 609.5,360.2 610.0,359.7 610.5,358.9 611.0,358.1 611.4,357.2 612.9,356.4 613.4,355.7 613.9,354.9 614.4,354.2 614.9,353.6 616.3,353.1 616.8,352.4 617.3,351.5 617.8,350.6 618.3,349.8 619.8,348.9 620.3,348.1 620.8,347.5 621.3,346.9 621.7,346.3 623.7,345.9 624.2,345.3 624.7,344.8 625.2,344.2 626.6,343.5 627.1,342.8 627.6,342.3 628.1,342.0 628.6,341.8 630.1,341.4 630.6,341.1 631.1,340.7 631.6,340.3 632.0,339.9 634.0,339.5 634.5,339.0 635.0,338.7 635.5,338.5 636.9,338.1 637.4,337.7 637.9,337.1 638.4,336.6 638.9,336.1 640.4,335.6 641.4,335.0 641.9,334.4 642.3,333.9 643.8,333.2 644.3,332.5 644.8,331.9 645.3,331.2 645.8,330.6 647.2,330.2 647.7,329.8 648.2,329.4 648.7,328.9 649.2,328.4 650.7,327.8 651.2,327.3 651.7,326.8 652.2,326.4 652.6,326.1 654.1,326.1 654.6,326.0 655.1,325.7 655.6,325.4 656.1,324.9 657.5,324.3 658.0,323.7 658.5,323.1 659.0,322.3 659.5,321.6 661.0,320.9 661.5,320.2 662.0,319.6 662.5,319.2 662.9,318.7 664.4,317.9 664.9,317.1 665.4,316.4 665.9,315.6 666.4,314.9 667.9,314.0 668.3,313.0 668.8,312.0 669.3,311.1 669.8,310.1 671.8,309.2 672.3,308.3 672.8,307.6 673.2,306.9 674.7,306.3 675.2,305.7 675.7,305.1 676.2,304.6 676.7,304.0 678.2,303.3 678.6,302.9 679.1,302.8 679.6,302.7 680.1,302.8 681.6,302.8 682.1,302.8 682.6,302.9 683.1,303.0 683.5,303.1 685.0,303.3 685.5,303.5 686.0,303.6 686.5,303.6 687.0,303.5 688.5,303.4 688.9,303.3 689.4,303.0 689.9,302.7 690.4,302.5 691.9,302.5 692.4,302.6 692.9,302.7 693.4,302.9 693.8,303.1 695.3,303.4 695.8,303.8 696.3,304.4 696.8,305.3 697.3,306.0 698.8,306.4 699.2,306.8 699.7,307.1 700.2,307.5 700.7,308.0 702.2,308.4 702.7,309.0 703.2,309.6 703.7,310.3 704.1,310.8 705.6,311.3 706.1,311.7 706.6,312.2 707.1,312.6 707.6,312.8 709.1,313.0 709.5,313.1 710.0,313.1 711.0,313.2 712.5,313.3 713.0,313.4 713.5,313.3 714.0,313.1 714.5,312.9 715.9,312.7 716.4,312.4 716.9,312.0 717.4,311.6 717.9,311.1 719.4,310.3 719.8,309.5 720.3,308.8 720.8,308.2 721.3,307.6 722.8,307.0 723.3,306.3 723.8,305.7 724.3,305.1 724.8,304.5 726.7,303.9 727.2,303.1 727.7,302.1 728.2,301.1 730.1,300.3 730.6,299.3 731.1,298.4 731.6,297.3 733.1,295.8 733.6,294.2 734.1,292.5 734.6,291.2 735.1,290.0 737.0,288.8 737.5,287.5 738.0,286.2 738.5,284.8 740.0,283.5 740.4,282.2 740.9,281.0 741.4,279.7 741.9,278.6 743.4,277.2 743.9,275.6 744.4,274.0 744.9,272.4 745.4,271.0 746.8,269.7 747.3,268.3 747.8,267.0 748.3,265.7 748.8,264.4 750.3,263.0 750.7,261.5 751.2,259.9 751.7,258.2 752.2,256.6 754.2,255.4 754.7,254.1 755.2,252.7 755.7,251.3 757.1,249.9 757.6,248.5 758.1,246.9 758.6,245.4 759.1,244.1 760.6,242.8 761.0,241.5 761.5,240.3 762.0,239.1 762.5,237.8 764.0,236.5 764.5,235.2 765.0,233.7 765.5,232.1 766.0,230.6 767.4,228.9 767.9,227.2 768.4,225.5 768.9,224.1 769.4,222.7 770.9,221.3 771.4,219.9 771.8,218.5 772.3,217.1 774.3,216.0 774.8,214.9 775.3,213.8 775.8,212.8 776.3,211.9 777.7,210.8 778.2,209.8 778.7,209.2 779.2,208.8 779.7,208.6 781.2,208.6 781.7,208.7 782.1,208.8 782.6,208.9 783.1,209.0 784.6,209.0 785.1,208.9 785.6,208.9 786.1,209.1 786.6,209.4 788.0,210.1 788.5,210.9 789.0,211.1 789.5,211.5 790.0,211.9 791.5,212.2 792.0,212.6 792.4,213.1 792.9,213.6 793.4,214.1 794.9,214.6 795.4,214.9 795.9,215.1 796.4,215.3 796.9,215.6 798.3,215.8 798.8,216.2 799.3,216.8 799.8,217.4 800.3,218.1 802.3,219.0 802.7,220.1 803.2,221.2 803.7,222.4 805.2,223.4 805.7,224.3 806.2,225.1 806.7,225.9 807.2,226.7 808.6,227.7 809.1,228.5 809.6,229.4 810.1,230.2 810.6,230.8 812.1,231.4 812.6,232.1 813.5,232.7 814.0,233.2 815.5,233.5 816.0,233.9 816.5,234.1 817.0,234.5 817.5,234.8 818.9,235.2 819.4,235.6 819.9,236.1 820.9,236.6 822.4,237.3 822.9,237.9 823.3,238.4 823.8,238.5 824.3,238.5 825.8,238.5 826.3,238.6 826.8,238.6 827.3,238.8 827.8,239.2 829.2,239.7 829.7,240.4 830.2,241.0 830.7,241.6 831.2,242.1 832.7,242.1 833.2,242.1 833.6,241.9 834.1,241.8 834.6,241.8 836.1,241.9 836.6,241.9 837.1,241.8 837.6,241.5 838.1,241.1 839.5,240.6 840.0,240.0 840.5,239.4 841.0,238.8 841.5,238.2 843.0,237.7 843.5,237.2 843.9,236.6 844.4,236.0 844.9,235.5 846.4,234.7 846.9,233.8 847.4,233.0 847.9,232.2 848.4,231.4 850.3,230.6 850.8,229.9 851.3,229.2 851.8,228.4 853.3,227.3 853.8,226.0 854.2,224.6 854.7,223.2 855.2,221.8 856.7,220.3 857.2,218.6 857.7,217.0 858.2,215.4 858.7,214.0 860.1,212.7 860.6,211.4 861.1,210.0 861.6,208.7 862.1,207.5 863.6,206.2 864.1,204.6 864.5,202.9 865.0,201.1 865.5,199.5 867.0,197.9 867.5,196.8 868.0,195.8 868.5,194.8 869.0,193.6 870.4,192.2 870.9,190.5 871.4,188.8 871.9,187.1 872.4,185.5 873.9,183.9 874.4,182.5 874.9,181.3 875.3,180.1 875.8,179.1 877.3,177.9 877.8,176.8 878.3,175.9 878.8,175.0 879.3,174.1 880.7,172.7 881.2,171.5 881.7,170.4 882.2,169.3 882.7,168.1 884.2,166.9 884.7,165.7 885.2,164.5 885.6,163.3 886.1,162.1 887.6,161.3 888.1,160.6 888.6,159.9 889.1,159.2 889.6,158.5 891.0,157.6 891.5,156.7 892.0,155.7 893.0,154.7 894.5,153.8 895.0,152.8 895.5,151.9 895.9,151.0 896.4,150.1 897.9,149.0 898.4,148.0 898.9,147.0 899.4,146.1 899.9,145.2 901.3,144.3 901.8,143.4 902.3,142.7 902.8,142.1 903.3,141.4 904.8,140.7 905.3,140.1 906.2,139.5 906.7,139.1 908.2,138.8 908.7,138.5 909.7,138.3 910.2,138.0 911.6,137.9 912.1,137.9 912.6,137.8 913.6,137.9 915.1,137.8 915.6,137.5 916.1,136.9 916.5,136.3 917.0,136.1 919.0,135.8 919.5,135.5 920.0,135.1 920.5,134.7 921.9,134.2 922.4,133.4 922.9,132.3 923.4,131.2 923.9,130.0 925.4,128.8 925.9,127.5 926.4,126.0 926.8,124.8 927.3,123.7 928.8,122.7 929.3,121.7 929.8,120.8 930.3,119.9 930.8,118.8 932.7,117.7 933.2,116.6 933.7,115.6 934.2,114.8 935.7,113.9 936.2,113.0 936.7,111.9 937.1,110.6 937.6,109.3 939.1,108.3 939.6,107.5 940.1,106.7 940.6,106.0 941.1,105.5 942.5,105.5 943.0,105.7 943.5,106.0 944.0,106.3 944.5,106.3 946.0,106.2 946.5,105.9 947.0,105.6 947.4,105.0 947.9,104.3 949.4,103.3 949.9,102.2 950.4,101.0 950.9,99.9 951.4,99.1 952.8,98.5 953.3,98.0 953.8,97.8 954.3,97.9 954.8,98.3 956.3,99.8 956.8,101.6 957.3,103.3 957.7,105.0 958.2,106.4 959.7,107.6 960.2,108.8 960.7,110.1 961.2,111.5 963.1,112.5 963.6,113.4 964.1,114.2 964.6,115.0 965.1,115.8 966.6,116.4 967.1,117.0 967.6,117.4 968.0,117.6 968.5,117.7 970.0,117.6 970.5,117.6 971.0,117.6 971.5,117.6 972.0,117.6 973.4,117.6 973.9,117.4 974.4,116.8 974.9,116.0 975.4,115.0 976.9,113.9 977.4,112.6 977.9,111.3 978.4,110.0 978.8,108.8 980.8,107.4 981.3,106.0 981.8,104.5 982.3,103.1 983.7,101.7 984.2,100.3 984.7,99.1 985.2,98.1 985.7,97.2 987.2,96.3 987.7,95.2 988.2,94.1 988.7,93.1 989.1,92.2 990.6,91.5 991.1,90.7 991.6,89.2 992.6,87.8 994.0,86.2 994.5,84.9 995.0,83.8 995.5,82.9 996.0,81.9 997.5,80.8 998.0,79.5 998.5,78.5 999.0,77.6 1000.9,76.7 1001.4,76.0 1001.9,75.3 1002.4,74.9 1002.9,74.7 1004.3,74.6 1004.8,74.7 1005.3,74.8 1005.8,74.9 1006.3,75.0 1007.8,75.1 1008.3,75.3 1008.8,75.5 1009.3,75.7 1009.7,75.9 1011.2,76.5 1011.7,77.0 1012.2,77.6 1012.7,78.1 1013.2,78.4 1014.6,78.5 1015.1,78.4 1015.6,78.3 1016.1,78.4 1016.6,78.5 1018.1,78.6 1018.6,78.7 1019.1,78.7 1019.6,78.8 1020.0,78.9 1021.5,78.7 1022.0,78.4 1022.5,78.3 1023.0,78.0 1023.5,77.7 1024.9,77.2 1025.4,76.6 1025.9,75.5 1026.4,74.2 1026.9,72.8 1028.9,71.2 1029.4,70.0 1029.9,69.0 1030.3,68.0 1031.8,67.1 1032.3,66.3 1032.8,65.7 1033.3,65.2 1033.8,64.6 1035.3,63.9 1035.7,63.1 1036.2,62.1 1036.7,61.2 1037.2,60.3 1038.7,59.7 1039.2,59.2 1039.7,58.8 1040.2,58.5 1040.6,58.2 1042.1,57.8 1042.6,57.5 1043.1,57.1 1043.6,56.8 1044.1,56.4 1045.6,56.1 1046.0,55.8 1046.5,55.7 1047.0,55.7 1047.5,55.8 1049.0,55.8 1049.5,55.8 1050.0,55.9 1050.5,56.3 1050.9,56.8 1052.4,56.9 1052.9,57.2 1053.4,57.4 1053.9,57.6 1054.4,57.8 1055.9,58.3 1056.3,59.1 1056.8,60.1 1057.3,61.2 1057.8,62.5 1059.3,63.7 1059.8,64.7 1060.3,65.8 1060.8,66.9 1061.2,67.9 1062.7,68.8 1063.2,69.8 1063.7,70.7 1064.2,71.7 1064.7,72.7 1066.2,74.0 1066.6,75.4 1067.1,76.8 1067.6,78.0 1068.1,79.2 1069.6,80.5 1070.1,81.7 1070.6,83.1 1071.5,84.4 1073.0,85.4 1073.5,86.0 1074.0,86.4 1074.5,86.8 1075.0,87.4 1076.5,88.2 1076.9,88.9 1077.4,89.4 1077.9,89.6 1078.4,89.8 1079.9,90.0 1080.4,90.3 1080.9,90.3 1081.4,90.1 1081.8,89.8 1083.3,89.3 1083.8,89.0 1084.3,88.6 1085.3,88.2 1086.8,87.7 1087.2,87.3 1087.7,87.3 1088.7,87.3 1090.2,87.1 1090.7,87.0 1091.2,86.8 1091.7,86.5 1092.2,86.1 1093.6,86.0 1094.1,86.1 1094.6,86.2 1095.1,86.4 1095.6,86.7 1097.5,87.2 1098.0,87.8 1098.5,88.4 1099.0,89.2 1100.5,90.0 1101.0,90.8" fill="none" stroke="#008000" stroke-width="2.08" stroke-linejoin="round" stroke-linecap="square"/><polyline points="130.7,407.9 132.2,405.1 132.7,402.4 133.2,400.0 133.7,397.9 134.2,396.3 136.1,395.3 136.6,394.2 137.1,393.4 137.6,393.3 139.1,392.8 139.6,392.4 140.1,392.1 140.5,391.8 141.0,391.3 142.5,391.2 143.0,391.4 143.5,391.7 144.0,392.0 144.5,392.1 145.9,392.2 146.4,392.6 146.9,393.1 147.4,393.9 147.9,395.0 149.4,396.1 149.9,397.0 150.4,397.5 150.8,397.7 151.3,397.4 152.8,396.9 153.3,396.2 153.8,395.8 154.3,395.6 154.8,395.1 156.2,395.1 156.7,395.1 157.2,395.1 157.7,395.3 158.2,395.8 159.7,396.9 160.2,398.2 160.7,399.8 161.1,401.9 161.6,404.2 163.1,406.5 163.6,408.7 164.1,410.5 164.6,411.9 165.1,412.9 166.5,412.9 167.0,413.1 167.5,413.8 168.0,414.7 168.5,415.6 170.0,416.4 170.5,417.1 171.0,417.9 171.4,418.3 171.9,418.6 173.4,418.2 173.9,417.8 174.4,417.4 175.4,417.0 176.8,416.2 177.3,414.4 177.8,412.1 178.3,409.6 178.8,406.8 180.3,404.2 180.8,402.0 181.3,400.0 181.7,398.6 182.2,397.8 183.7,397.2 184.2,397.5 184.7,397.5 185.2,397.2 185.7,397.0 187.1,397.0 187.6,397.2 188.1,397.2 188.6,396.8 190.6,395.7 191.1,394.7 191.6,393.9 192.0,393.1 194.0,392.4 194.5,391.6 195.0,390.9 195.5,390.5 196.0,390.1 197.4,389.9 197.9,389.7 198.4,389.3 198.9,389.3 199.4,389.7 201.4,389.7 201.9,389.7 202.3,390.0 202.8,390.3 204.3,390.9 204.8,391.7 205.3,392.5 205.8,393.2 206.3,393.8 207.7,393.7 208.2,393.7 208.7,394.2 209.2,394.9 209.7,395.8 211.2,396.5 211.7,397.1 212.2,397.7 212.6,398.3 213.1,398.9 215.1,399.4 215.6,400.0 216.1,400.5 216.6,400.9 218.0,400.4 218.5,398.8 219.0,397.0 219.5,395.5 220.0,393.9 221.5,392.3 222.0,390.6 222.5,389.0 222.9,387.4 223.4,385.3 224.9,382.4 225.4,380.0 225.9,377.6 226.4,375.2 226.9,372.9 228.3,370.7 228.8,368.6 229.3,366.7 229.8,365.2 230.3,364.0 231.8,363.1 232.3,362.0 232.8,360.7 233.3,359.4 233.7,358.1 235.2,357.5 235.7,357.3 236.2,357.5 236.7,357.2 238.6,356.6 239.1,356.0 239.6,355.0 240.1,353.7 240.6,352.2 242.1,351.2 242.6,351.0 243.1,350.7 243.6,350.5 244.0,350.5 245.5,350.8 246.0,350.9 246.5,350.6 247.0,350.2 247.5,349.3 248.9,347.9 249.4,346.0 249.9,344.2 250.4,342.7 250.9,341.4 252.4,340.3 252.9,339.3 253.4,338.4 253.9,337.7 254.3,337.4 255.8,337.9 256.3,338.8 256.8,339.7 257.3,340.5 257.8,341.4 259.2,341.9 259.7,342.4 260.2,343.2 260.7,344.1 261.2,345.1 262.7,345.7 263.2,346.5 263.7,347.7 264.2,348.9 264.6,350.2 266.6,351.8 267.1,353.6 267.6,355.3 268.1,356.6 269.5,357.9 270.0,358.7 270.5,359.5 271.0,360.1 271.5,360.6 273.0,360.7 273.5,360.3 274.0,359.7 274.5,359.1 274.9,358.6 276.4,357.9 276.9,357.3 277.4,356.9 277.9,356.6 278.4,356.2 279.8,356.0 280.3,356.0 280.8,355.8 281.3,355.3 281.8,354.7 283.8,354.0 284.3,353.2 284.8,352.4 285.2,351.6 286.7,350.4 287.2,349.0 287.7,347.7 288.2,346.8 288.7,346.1 290.2,345.7 290.6,345.1 291.1,344.1 291.6,342.8 292.1,341.6 293.6,340.7 294.1,340.0 294.6,339.5 295.1,339.1 295.5,338.7 297.0,338.8 297.5,338.8 298.0,338.6 298.5,338.4 299.0,338.4 300.5,338.8 300.9,339.3 301.4,339.9 301.9,340.6 302.4,341.3 303.9,342.6 304.4,344.1 304.9,345.6 305.4,346.9 305.8,347.9 307.3,348.5 307.8,349.6 308.3,351.2 308.8,353.2 309.3,355.3 310.8,357.6 311.2,359.9 311.7,362.3 312.2,364.6 312.7,366.7 314.7,368.1 315.2,369.1 315.7,370.2 316.1,371.4 317.6,372.6 318.1,373.7 318.6,374.8 319.1,375.7 319.6,376.8 321.1,378.1 321.5,379.2 322.0,380.0 322.5,380.4 323.0,380.6 324.5,380.8 325.0,380.9 325.5,380.9 326.0,381.0 326.4,381.1 327.9,381.4 328.4,381.6 328.9,381.4 329.4,380.8 329.9,380.3 331.4,380.2 331.8,380.4 332.3,380.5 332.8,380.4 333.3,380.2 334.8,379.5 335.3,378.7 335.8,378.0 336.3,377.3 336.7,376.5 338.2,375.8 338.7,375.6 339.2,376.0 339.7,376.9 340.2,378.1 341.7,379.4 342.1,380.8 342.6,382.0 343.1,382.9 343.6,383.4 345.1,383.1 345.6,382.6 346.1,382.1 346.6,381.7 347.1,381.1 348.5,380.1 349.0,378.8 349.5,377.9 350.0,377.7 350.5,378.3 352.0,380.3 352.4,381.9 352.9,383.2 353.9,384.6 355.4,386.8 355.9,389.1 356.4,390.8 356.9,391.7 357.4,392.3 358.8,392.2 359.3,391.7 359.8,391.0 360.3,390.3 360.8,389.8 362.3,389.6 362.7,389.6 363.2,389.7 363.7,389.9 364.2,390.4 365.7,390.9 366.2,391.4 366.7,392.0 367.2,392.1 369.1,391.6 369.6,390.5 370.1,388.3 370.6,386.3 371.1,384.5 372.6,382.1 373.0,379.1 373.5,375.6 374.0,372.6 374.5,370.0 376.0,367.6 376.5,365.8 377.0,364.2 377.5,362.7 378.0,361.3 379.9,360.4 380.4,359.5 380.9,358.9 381.4,358.7 382.9,359.3 383.3,359.5 383.8,359.0 384.3,358.1 384.8,356.9 386.3,355.3 386.8,353.6 387.3,351.9 387.8,350.6 388.3,349.7 389.7,349.1 390.2,349.1 390.7,349.1 391.2,348.7 391.7,348.0 393.2,347.6 393.7,346.9 394.1,346.2 394.6,345.9 395.1,346.0 397.1,346.3 397.6,346.1 398.1,345.9 398.6,345.6 400.0,346.0 400.5,345.8 401.0,346.2 401.5,347.5 402.0,349.5 403.5,352.7 404.0,356.0 404.4,359.7 404.9,363.3 405.4,366.6 406.9,369.0 407.4,370.9 407.9,372.4 408.4,373.7 408.9,375.3 410.3,377.1 410.8,378.8 411.3,380.8 411.8,382.7 412.3,383.9 413.8,384.1 414.3,384.1 414.7,384.4 415.2,384.6 415.7,384.7 417.2,384.1 417.7,383.4 418.2,382.6 418.7,381.8 419.2,380.9 420.6,379.2 421.1,377.8 421.6,376.3 422.1,374.7 424.1,372.7 424.6,371.3 425.0,370.3 425.5,369.7 426.0,369.5 427.5,369.4 428.0,368.5 428.5,367.0 429.0,365.0 429.5,363.8 430.9,363.1 431.4,363.0 431.9,362.8 432.4,362.9 432.9,363.3 434.4,365.0 434.9,366.7 435.3,368.5 435.8,370.0 436.3,371.1 437.8,372.0 438.3,373.1 438.8,374.0 439.3,375.0 439.8,375.8 441.2,376.9 441.7,377.9 442.2,378.5 442.7,378.5 443.2,378.3 445.2,377.8 445.6,377.9 446.1,378.5 446.6,379.4 448.1,379.8 448.6,379.9 449.1,380.4 449.6,381.2 450.1,382.4 451.5,384.3 452.0,385.2 452.5,386.2 453.0,386.7 453.5,387.2 455.5,387.8 455.9,388.4 456.4,388.8 456.9,389.1 458.4,389.7 458.9,390.6 459.4,391.9 459.9,393.5 460.4,395.2 462.3,397.1 462.8,399.1 463.3,401.1 463.8,403.2 465.3,405.2 465.8,407.0 466.2,408.8 466.7,410.7 467.2,412.1 468.7,412.7 469.2,412.7 469.7,411.3 470.2,409.6 470.7,407.6 472.1,405.6 472.6,403.7 473.1,401.8 473.6,400.1 474.1,398.6 475.6,397.2 476.1,395.6 476.5,393.8 477.0,391.6 477.5,389.5 479.0,387.7 479.5,385.9 480.0,384.0 480.5,382.2 481.0,380.3 482.4,378.5 482.9,376.8 483.4,375.2 483.9,373.9 484.4,372.8 485.9,372.3 486.4,372.2 486.8,372.4 487.3,372.8 487.8,373.5 489.3,374.6 489.8,375.9 490.3,377.4 490.8,378.9 491.3,380.4 493.2,381.7 493.7,382.9 494.2,384.2 494.7,385.4 496.2,386.6 496.7,388.2 497.1,390.0 497.6,392.0 498.1,394.3 499.6,396.8 500.1,399.6 500.6,402.5 501.1,405.6 501.6,408.7 503.0,412.1 503.5,415.3 504.0,418.5 504.5,421.4 505.0,424.1 506.5,426.1 507.0,427.5 507.5,428.9 507.9,430.4 508.4,431.9 509.9,433.7 510.4,435.9 510.9,438.3 511.4,440.6 511.9,442.8 513.3,444.8 513.8,446.1 514.3,447.1 514.8,447.8 515.3,448.2 516.8,447.9 517.3,447.1 517.8,445.9 518.2,444.3 518.7,442.4 520.2,440.1 520.7,437.7 521.2,435.5 521.7,433.8 522.2,432.2 523.6,431.0 524.1,429.9 524.6,428.4 525.1,426.4 525.6,424.1 527.1,421.3 527.6,418.2 528.1,415.1 528.5,412.3 529.0,409.6 530.5,407.4 531.0,405.0 531.5,402.4 532.5,399.9 533.9,397.5 534.4,395.5 534.9,393.6 535.4,391.7 535.9,390.1 537.4,389.0 537.9,388.2 538.4,387.3 538.8,386.0 539.3,384.1 540.8,381.9 541.3,380.0 541.8,378.2 542.3,377.1 542.8,376.5 544.2,376.4 544.7,376.4 545.2,376.5 545.7,376.6 546.2,376.6 548.2,376.4 548.7,376.0 549.1,375.8 549.6,375.9 551.6,375.7 552.1,375.2 552.6,374.4 553.1,373.8 554.5,373.0 555.0,371.9 555.5,370.3 556.0,368.8 556.5,367.4 558.5,366.2 559.0,365.3 559.4,364.7 559.9,364.0 561.4,362.9 561.9,361.1 562.4,359.2 562.9,357.1 563.4,355.2 564.8,353.6 565.3,352.0 565.8,350.3 566.3,348.6 566.8,347.1 568.3,345.6 568.8,344.1 569.3,343.0 569.7,342.4 570.2,342.4 571.7,342.3 572.2,342.7 572.7,343.3 573.2,344.0 573.7,344.8 575.6,345.8 576.1,346.8 576.6,347.7 577.1,348.5 578.6,349.3 579.1,350.5 579.6,351.9 580.0,353.1 580.5,353.9 582.0,354.7 582.5,355.4 583.0,356.2 583.5,357.4 584.0,358.9 585.4,360.3 585.9,361.6 586.4,362.8 586.9,364.0 587.4,365.2 588.9,366.1 589.4,367.1 589.9,368.0 590.3,368.7 590.8,369.2 592.3,369.5 592.8,369.3 593.3,369.0 593.8,368.6 594.3,368.1 595.7,367.5 596.2,367.0 596.7,366.6 597.2,366.4 599.2,366.5 599.7,366.2 600.2,365.6 600.6,364.7 601.1,363.6 602.6,362.4 603.1,361.1 603.6,359.8 604.1,358.6 604.6,357.2 606.0,356.1 606.5,355.0 607.0,353.9 607.5,352.6 608.0,351.1 609.5,349.8 610.0,348.5 610.5,347.1 611.0,345.8 611.4,344.5 612.9,343.4 613.4,342.4 613.9,341.5 614.4,340.5 614.9,339.5 616.3,338.3 616.8,337.2 617.3,336.1 617.8,335.3 618.3,334.7 619.8,334.1 620.3,333.8 620.8,333.8 621.3,333.9 621.7,334.0 623.7,334.2 624.2,334.3 624.7,334.3 625.2,334.5 626.6,334.6 627.1,334.5 627.6,334.8 628.1,335.6 628.6,336.4 630.1,337.0 630.6,337.4 631.1,337.7 631.6,337.8 632.0,338.0 634.0,338.1 634.5,338.3 635.0,338.8 635.5,339.4 636.9,339.6 637.4,339.4 637.9,338.9 638.4,338.0 638.9,337.0 640.4,335.8 641.4,334.7 641.9,333.3 642.3,332.1 643.8,330.7 644.3,329.2 644.8,327.8 645.3,326.6 645.8,325.1 647.2,323.5 647.7,321.9 648.2,320.5 648.7,319.1 649.2,317.8 650.7,316.5 651.2,315.2 651.7,314.1 652.2,313.1 652.6,312.1 654.1,311.4 654.6,311.0 655.1,310.7 655.6,310.5 656.1,310.3 657.5,310.3 658.0,310.2 658.5,310.1 659.0,309.9 659.5,309.7 661.0,309.8 661.5,309.9 662.0,310.1 662.5,310.5 662.9,310.9 664.4,311.1 664.9,311.0 665.4,310.9 665.9,310.8 666.4,310.6 667.9,310.1 668.3,309.4 668.8,308.6 669.3,307.7 669.8,306.8 671.8,305.6 672.3,304.3 672.8,303.1 673.2,302.0 674.7,300.8 675.2,299.7 675.7,298.7 676.2,297.7 676.7,296.7 678.2,295.5 678.6,294.7 679.1,294.3 679.6,294.0 680.1,293.7 681.6,293.4 682.1,293.3 682.6,293.4 683.1,293.6 683.5,294.1 685.0,294.7 685.5,295.6 686.0,296.4 686.5,297.2 687.0,298.0 688.5,298.7 688.9,299.6 689.4,300.3 689.9,301.0 690.4,301.7 691.9,302.9 692.4,304.1 692.9,305.4 693.4,306.8 693.8,308.2 695.3,309.9 695.8,311.5 696.3,313.2 696.8,315.2 697.3,317.0 698.8,318.1 699.2,318.9 699.7,319.5 700.2,320.1 700.7,320.5 702.2,320.8 702.7,321.1 703.2,321.5 703.7,322.0 704.1,322.3 705.6,322.5 706.1,322.6 706.6,322.7 707.1,322.7 707.6,322.6 709.1,321.8 709.5,320.7 710.0,319.5 711.0,318.3 712.5,316.9 713.0,315.5 713.5,313.7 714.0,311.7 714.5,309.2 715.9,306.9 716.4,305.3 716.9,303.8 717.4,302.3 717.9,300.7 719.4,298.8 719.8,296.9 720.3,295.1 720.8,293.5 721.3,291.9 722.8,290.2 723.3,288.8 723.8,287.5 724.3,286.2 724.8,284.9 726.7,283.8 727.2,283.0 727.7,282.2 728.2,281.4 730.1,280.9 730.6,280.4 731.1,279.9 731.6,279.4 733.1,278.6 733.6,277.8 734.1,276.8 734.6,275.7 735.1,274.8 737.0,273.9 737.5,272.9 738.0,272.2 738.5,271.4 740.0,270.6 740.4,269.6 740.9,268.7 741.4,267.9 741.9,267.0 743.4,265.5 743.9,263.7 744.4,261.7 744.9,259.7 745.4,257.7 746.8,255.8 747.3,253.9 747.8,251.7 748.3,249.6 748.8,247.5 750.3,245.2 750.7,242.9 751.2,240.6 751.7,238.3 752.2,236.0 754.2,234.6 754.7,232.9 755.2,231.0 755.7,229.1 757.1,227.1 757.6,225.0 758.1,222.8 758.6,220.8 759.1,218.8 760.6,217.2 761.0,216.1 761.5,215.5 762.0,215.1 762.5,214.6 764.0,214.0 764.5,213.1 765.0,212.1 765.5,211.2 766.0,210.3 767.4,209.0 767.9,207.9 768.4,206.8 768.9,206.1 769.4,205.7 770.9,205.2 771.4,203.8 771.8,202.7 772.3,201.9 774.3,201.5 774.8,201.3 775.3,201.2 775.8,201.5 776.3,201.7 777.7,201.5 778.2,201.1 778.7,200.9 779.2,200.8 779.7,200.9 781.2,201.3 781.7,202.1 782.1,203.1 782.6,204.4 783.1,205.5 784.6,206.3 785.1,207.4 785.6,208.6 786.1,210.1 786.6,211.4 788.0,213.2 788.5,215.2 789.0,217.1 789.5,218.9 790.0,220.6 791.5,221.6 792.0,222.6 792.4,223.6 792.9,224.4 793.4,225.1 794.9,226.3 795.4,227.3 795.9,228.0 796.4,228.5 796.9,228.9 798.3,229.0 798.8,229.0 799.3,229.0 799.8,229.1 800.3,229.4 802.3,230.4 802.7,231.4 803.2,232.5 803.7,233.3 805.2,234.0 805.7,234.0 806.2,233.7 806.7,233.4 807.2,233.2 808.6,233.4 809.1,234.1 809.6,234.9 810.1,235.5 810.6,236.0 812.1,236.3 812.6,236.5 813.5,236.8 814.0,237.0 815.5,237.1 816.0,237.5 816.5,237.9 817.0,238.5 817.5,239.2 818.9,240.0 819.4,240.5 819.9,240.4 820.9,240.3 822.4,240.7 822.9,241.2 823.3,241.5 823.8,241.7 824.3,241.9 825.8,242.3 826.3,242.6 826.8,242.5 827.3,242.2 827.8,242.1 829.2,242.6 829.7,243.4 830.2,244.5 830.7,245.3 831.2,246.0 832.7,245.9 833.2,245.6 833.6,245.0 834.1,244.4 834.6,243.7 836.1,243.3 836.6,242.5 837.1,241.8 837.6,241.2 838.1,240.5 839.5,239.1 840.0,237.5 840.5,235.9 841.0,234.5 841.5,233.2 843.0,231.8 843.5,230.5 843.9,229.4 844.4,228.5 844.9,227.4 846.4,225.4 846.9,222.9 847.4,220.2 847.9,217.7 848.4,215.4 850.3,213.9 850.8,212.8 851.3,211.9 851.8,211.1 853.3,209.5 853.8,207.4 854.2,205.4 854.7,203.3 855.2,201.1 856.7,198.8 857.2,196.8 857.7,195.1 858.2,193.5 858.7,192.1 860.1,190.9 860.6,189.6 861.1,188.1 861.6,186.7 862.1,185.2 863.6,183.6 864.1,182.4 864.5,181.5 865.0,180.7 865.5,180.0 867.0,179.1 867.5,178.3 868.0,177.4 868.5,176.3 869.0,174.8 870.4,173.5 870.9,172.2 871.4,170.8 871.9,169.6 872.4,168.5 873.9,167.7 874.4,166.9 874.9,166.1 875.3,165.3 875.8,164.7 877.3,163.5 877.8,162.8 878.3,162.3 878.8,162.0 879.3,161.6 880.7,160.4 881.2,159.2 881.7,157.9 882.2,156.4 882.7,154.9 884.2,153.3 884.7,151.7 885.2,150.2 885.6,149.0 886.1,148.1 887.6,147.7 888.1,147.6 888.6,147.7 889.1,147.5 889.6,147.1 891.0,146.2 891.5,145.2 892.0,144.1 893.0,142.8 894.5,141.6 895.0,140.8 895.5,139.7 895.9,138.4 896.4,136.8 897.9,135.1 898.4,134.2 898.9,133.5 899.4,133.0 899.9,132.7 901.3,132.3 901.8,132.3 902.3,132.4 902.8,132.6 903.3,132.4 904.8,131.9 905.3,131.2 906.2,130.1 906.7,129.2 908.2,128.7 908.7,128.6 909.7,128.9 910.2,129.5 911.6,130.5 912.1,131.6 912.6,132.6 913.6,133.7 915.1,134.6 915.6,135.2 916.1,135.6 916.5,136.1 917.0,136.6 919.0,136.8 919.5,136.7 920.0,136.3 920.5,135.8 921.9,134.7 922.4,133.0 922.9,130.6 923.4,128.5 923.9,126.8 925.4,125.1 925.9,123.4 926.4,121.6 926.8,119.5 927.3,117.4 928.8,115.1 929.3,112.7 929.8,109.9 930.3,106.9 930.8,103.7 932.7,100.3 933.2,97.2 933.7,94.7 934.2,92.6 935.7,90.3 936.2,88.0 936.7,85.7 937.1,83.3 937.6,81.1 939.1,79.5 939.6,78.9 940.1,79.1 940.6,80.0 941.1,81.1 942.5,82.9 943.0,84.8 943.5,87.2 944.0,89.6 944.5,91.7 946.0,93.6 946.5,95.4 947.0,97.1 947.4,98.8 947.9,100.4 949.4,101.6 949.9,102.7 950.4,103.4 950.9,103.7 951.4,104.2 952.8,105.3 953.3,106.6 953.8,108.5 954.3,111.2 954.8,114.2 956.3,118.7 956.8,122.8 957.3,126.1 957.7,128.6 958.2,130.3 959.7,130.9 960.2,131.4 960.7,131.7 961.2,132.0 963.1,132.0 963.6,131.8 964.1,131.7 964.6,131.6 965.1,131.5 966.6,131.1 967.1,131.0 967.6,130.8 968.0,130.5 968.5,130.4 970.0,129.7 970.5,128.6 971.0,127.3 971.5,125.3 972.0,122.8 973.4,119.6 973.9,114.7 974.4,109.4 974.9,104.5 975.4,100.1 976.9,96.2 977.4,92.8 977.9,89.7 978.4,87.0 978.8,84.2 980.8,81.4 981.3,78.8 981.8,76.1 982.3,73.4 983.7,70.6 984.2,68.1 984.7,65.9 985.2,64.0 985.7,62.5 987.2,60.8 987.7,59.3 988.2,58.2 988.7,57.6 989.1,57.6 990.6,58.8 991.1,60.5 991.6,62.4 992.6,64.8 994.0,66.6 994.5,68.3 995.0,70.1 995.5,71.7 996.0,72.8 997.5,73.2 998.0,73.4 998.5,74.2 999.0,75.0 1000.9,76.0 1001.4,77.2 1001.9,78.6 1002.4,80.4 1002.9,82.2 1004.3,83.9 1004.8,85.6 1005.3,87.3 1005.8,89.0 1006.3,90.4 1007.8,91.3 1008.3,91.6 1008.8,90.8 1009.3,89.5 1009.7,88.1 1011.2,86.8 1011.7,86.1 1012.2,85.5 1012.7,84.7 1013.2,83.7 1014.6,82.8 1015.1,82.3 1015.6,81.8 1016.1,81.3 1016.6,80.7 1018.1,79.9 1018.6,78.8 1019.1,77.5 1019.6,76.0 1020.0,74.2 1021.5,72.1 1022.0,70.0 1022.5,67.8 1023.0,65.6 1023.5,63.6 1024.9,61.9 1025.4,60.2 1025.9,58.8 1026.4,57.5 1026.9,56.0 1028.9,54.2 1029.4,52.6 1029.9,51.2 1030.3,50.0 1031.8,49.2 1032.3,48.5 1032.8,47.8 1033.3,47.2 1033.8,46.6 1035.3,45.8 1035.7,45.0 1036.2,44.1 1036.7,43.5 1037.2,43.2 1038.7,43.8 1039.2,45.0 1039.7,46.4 1040.2,47.9 1040.6,49.5 1042.1,50.7 1042.6,51.7 1043.1,52.6 1043.6,53.4 1044.1,54.0 1045.6,54.9 1046.0,56.0 1046.5,57.4 1047.0,58.9 1047.5,60.3 1049.0,61.0 1049.5,61.8 1050.0,62.7 1050.5,64.2 1050.9,65.6 1052.4,66.8 1052.9,68.0 1053.4,69.3 1053.9,70.3 1054.4,71.1 1055.9,71.4 1056.3,71.9 1056.8,72.5 1057.3,73.1 1057.8,74.1 1059.3,75.2 1059.8,76.4 1060.3,77.7 1060.8,79.1 1061.2,80.5 1062.7,81.4 1063.2,82.2 1063.7,82.7 1064.2,83.1 1064.7,83.8 1066.2,85.7 1066.6,87.7 1067.1,89.5 1067.6,90.6 1068.1,91.5 1069.6,92.8 1070.1,94.1 1070.6,95.5 1071.5,97.0 1073.0,98.3 1073.5,99.2 1074.0,99.5 1074.5,99.9 1075.0,100.3 1076.5,100.9 1076.9,101.2 1077.4,101.0 1077.9,100.1 1078.4,99.1 1079.9,98.2 1080.4,97.7 1080.9,97.1 1081.4,96.2 1081.8,95.1 1083.3,93.4 1083.8,90.9 1084.3,88.2 1085.3,85.5 1086.8,83.4 1087.2,81.7 1087.7,80.3 1088.7,79.2 1090.2,77.4 1090.7,75.6 1091.2,74.0 1091.7,72.5 1092.2,71.3 1093.6,70.8 1094.1,70.5 1094.6,70.1 1095.1,70.2 1095.6,71.0 1097.5,73.0 1098.0,75.1 1098.5,77.2 1099.0,79.4 1100.5,81.6 1101.0,84.1" fill="none" stroke="#ff0000" stroke-width="2.08" stroke-linejoin="round" stroke-linecap="square"/><polyline points="256.3,387.3 256.8,386.9 257.3,386.5 257.8,386.2 259.2,385.8 259.7,385.4 260.2,385.0 260.7,384.6 261.2,384.3 262.7,384.1 263.2,383.8 263.7,383.6 264.2,383.3 264.6,383.1 266.6,382.9 267.1,382.6 267.6,382.4 268.1,382.2 269.5,382.0 270.0,381.8 270.5,381.6 271.0,381.5 271.5,381.4 273.0,381.3 273.5,381.3 274.0,381.2 274.5,381.2 274.9,381.1 276.4,380.9 276.9,380.7 277.4,380.4 277.9,380.1 278.4,379.9 279.8,379.6 280.3,379.4 280.8,379.2 281.3,378.9 281.8,378.6 283.8,378.4 284.3,378.1 284.8,377.8 285.2,377.4 286.7,377.0 287.2,376.6 287.7,376.3 288.2,376.0 288.7,375.7 290.2,375.5 290.6,375.2 291.1,374.9 291.6,374.6 292.1,374.3 293.6,374.0 294.1,373.7 294.6,373.4 295.1,373.2 295.5,373.0 297.0,372.7 297.5,372.5 298.0,372.3 298.5,372.1 299.0,371.8 300.5,371.6 300.9,371.4 301.4,371.1 301.9,370.7 302.4,370.3 303.9,369.9 304.4,369.4 304.9,368.9 305.4,368.5 305.8,368.1 307.3,367.7 307.8,367.4 308.3,367.2 308.8,367.1 309.3,367.0 310.8,366.9 311.2,366.8 311.7,366.8 312.2,366.7 312.7,366.7 314.7,366.5 315.2,366.4 315.7,366.3 316.1,366.2 317.6,366.2 318.1,366.1 318.6,366.1 319.1,366.1 319.6,366.0 321.1,366.1 321.5,366.1 322.0,366.1 322.5,366.0 323.0,365.8 324.5,365.7 325.0,365.5 325.5,365.3 326.0,365.2 326.4,365.1 327.9,365.0 328.4,365.0 328.9,364.9 329.4,364.8 329.9,364.6 331.4,364.5 331.8,364.5 332.3,364.5 332.8,364.5 333.3,364.5 334.8,364.5 335.3,364.4 335.8,364.4 336.3,364.3 336.7,364.3 338.2,364.3 338.7,364.3 339.2,364.4 339.7,364.4 340.2,364.4 341.7,364.4 342.1,364.4 342.6,364.4 343.1,364.3 343.6,364.2 345.1,364.0 345.6,363.8 346.1,363.6 346.6,363.3 347.1,363.0 348.5,362.8 349.0,362.6 349.5,362.5 350.0,362.4 350.5,362.3 352.0,362.4 352.4,362.5 352.9,362.6 353.9,362.6 355.4,362.8 355.9,363.0 356.4,363.2 356.9,363.3 357.4,363.3 358.8,363.4 359.3,363.5 359.8,363.7 360.3,363.7 360.8,363.8 362.3,363.9 362.7,363.9 363.2,363.9 363.7,363.9 364.2,364.0 365.7,364.1 366.2,364.3 366.7,364.4 367.2,364.6 369.1,364.7 369.6,364.8 370.1,364.9 370.6,365.0 371.1,365.0 372.6,364.9 373.0,364.8 373.5,364.7 374.0,364.6 374.5,364.6 376.0,364.5 376.5,364.4 377.0,364.4 377.5,364.3 378.0,364.2 379.9,364.3 380.4,364.3 380.9,364.4 381.4,364.6 382.9,364.8 383.3,365.0 383.8,365.1 384.3,365.2 384.8,365.2 386.3,365.2 386.8,365.0 387.3,364.9 387.8,364.9 388.3,364.9 389.7,364.9 390.2,365.0 390.7,365.2 391.2,365.3 391.7,365.3 393.2,365.4 393.7,365.3 394.1,365.3 394.6,365.3 395.1,365.3 397.1,365.4 397.6,365.3 398.1,365.2 398.6,365.2 400.0,365.2 400.5,365.4 401.0,365.5 401.5,365.7 402.0,366.0 403.5,366.3 404.0,366.5 404.4,366.8 404.9,367.0 405.4,367.3 406.9,367.4 407.4,367.5 407.9,367.6 408.4,367.7 408.9,367.8 410.3,367.9 410.8,368.0 411.3,368.1 411.8,368.2 412.3,368.3 413.8,368.3 414.3,368.3 414.7,368.3 415.2,368.3 415.7,368.3 417.2,368.4 417.7,368.5 418.2,368.7 418.7,368.8 419.2,369.0 420.6,369.2 421.1,369.2 421.6,369.3 422.1,369.4 424.1,369.4 424.6,369.5 425.0,369.6 425.5,369.7 426.0,369.8 427.5,370.0 428.0,370.1 428.5,370.2 429.0,370.3 429.5,370.3 430.9,370.4 431.4,370.4 431.9,370.5 432.4,370.6 432.9,370.9 434.4,371.3 434.9,371.7 435.3,372.1 435.8,372.5 436.3,372.9 437.8,373.2 438.3,373.4 438.8,373.7 439.3,373.9 439.8,374.1 441.2,374.3 441.7,374.4 442.2,374.5 442.7,374.5 443.2,374.5 445.2,374.5 445.6,374.5 446.1,374.5 446.6,374.5 448.1,374.5 448.6,374.4 449.1,374.4 449.6,374.5 450.1,374.5 451.5,374.8 452.0,375.0 452.5,375.2 453.0,375.4 453.5,375.6 455.5,375.7 455.9,375.9 456.4,376.0 456.9,376.1 458.4,376.3 458.9,376.5 459.4,376.7 459.9,376.9 460.4,377.0 462.3,377.2 462.8,377.3 463.3,377.4 463.8,377.5 465.3,377.7 465.8,377.8 466.2,378.0 466.7,378.2 467.2,378.3 468.7,378.4 469.2,378.5 469.7,378.5 470.2,378.5 470.7,378.5 472.1,378.5 472.6,378.5 473.1,378.4 473.6,378.4 474.1,378.3 475.6,378.2 476.1,378.2 476.5,378.2 477.0,378.2 477.5,378.2 479.0,378.2 479.5,378.3 480.0,378.3 480.5,378.2 481.0,378.1 482.4,378.0 482.9,377.8 483.4,377.6 483.9,377.5 484.4,377.3 485.9,377.2 486.4,377.2 486.8,377.2 487.3,377.2 487.8,377.4 489.3,377.5 489.8,377.7 490.3,378.0 490.8,378.2 491.3,378.5 493.2,378.7 493.7,378.9 494.2,378.9 494.7,378.8 496.2,378.8 496.7,378.9 497.1,378.9 497.6,378.9 498.1,378.9 499.6,378.9 500.1,378.9 500.6,379.1 501.1,379.3 501.6,379.6 503.0,380.0 503.5,380.3 504.0,380.7 504.5,381.1 505.0,381.6 506.5,381.9 507.0,382.2 507.5,382.6 507.9,382.9 508.4,383.3 509.9,383.7 510.4,384.2 510.9,384.7 511.4,385.2 511.9,385.7 513.3,386.1 513.8,386.6 514.3,387.0 514.8,387.5 515.3,387.9 516.8,388.3 517.3,388.6 517.8,388.9 518.2,389.1 518.7,389.4 520.2,389.6 520.7,389.9 521.2,390.1 521.7,390.4 522.2,390.7 523.6,390.9 524.1,391.1 524.6,391.2 525.1,391.3 525.6,391.5 527.1,391.8 527.6,392.1 528.1,392.4 528.5,392.7 529.0,393.0 530.5,393.3 531.0,393.5 531.5,393.7 532.5,393.9 533.9,394.0 534.4,394.2 534.9,394.3 535.4,394.5 535.9,394.6 537.4,394.8 537.9,394.9 538.4,395.0 538.8,395.1 539.3,395.2 540.8,395.3 541.3,395.2 541.8,395.1 542.3,395.0 542.8,395.0 544.2,394.9 544.7,394.7 545.2,394.6 545.7,394.5 546.2,394.4 548.2,394.3 548.7,394.2 549.1,394.2 549.6,394.1 551.6,394.1 552.1,394.0 552.6,393.9 553.1,393.7 554.5,393.5 555.0,393.3 555.5,393.1 556.0,393.0 556.5,392.9 558.5,392.9 559.0,392.8 559.4,392.7 559.9,392.7 561.4,392.5 561.9,392.4 562.4,392.1 562.9,391.9 563.4,391.7 564.8,391.6 565.3,391.5 565.8,391.3 566.3,391.2 566.8,391.2 568.3,391.1 568.8,390.9 569.3,390.8 569.7,390.6 570.2,390.6 571.7,390.6 572.2,390.7 572.7,390.7 573.2,390.7 573.7,390.7 575.6,390.8 576.1,390.8 576.6,390.8 577.1,390.7 578.6,390.5 579.1,390.3 579.6,390.1 580.0,389.9 580.5,389.7 582.0,389.4 582.5,389.3 583.0,389.1 583.5,389.0 584.0,389.0 585.4,389.0 585.9,389.0 586.4,389.0 586.9,389.0 587.4,389.1 588.9,389.1 589.4,389.2 589.9,389.2 590.3,389.3 590.8,389.4 592.3,389.4 592.8,389.3 593.3,389.2 593.8,388.9 594.3,388.6 595.7,388.2 596.2,387.8 596.7,387.5 597.2,387.2 599.2,386.9 599.7,386.6 600.2,386.3 600.6,386.0 601.1,385.7 602.6,385.3 603.1,384.9 603.6,384.5 604.1,384.1 604.6,383.8 606.0,383.4 606.5,383.1 607.0,382.8 607.5,382.4 608.0,382.1 609.5,381.7 610.0,381.4 610.5,381.1 611.0,380.8 611.4,380.5 612.9,380.3 613.4,380.0 613.9,379.8 614.4,379.6 614.9,379.4 616.3,379.2 616.8,379.0 617.3,378.7 617.8,378.5 618.3,378.3 619.8,378.1 620.3,378.0 620.8,377.8 621.3,377.7 621.7,377.5 623.7,377.5 624.2,377.4 624.7,377.3 625.2,377.2 626.6,377.0 627.1,376.8 627.6,376.7 628.1,376.5 628.6,376.3 630.1,376.1 630.6,375.9 631.1,375.6 631.6,375.2 632.0,374.9 634.0,374.5 634.5,374.1 635.0,373.8 635.5,373.4 636.9,373.0 637.4,372.7 637.9,372.3 638.4,371.9 638.9,371.4 640.4,370.9 641.4,370.4 641.9,369.8 642.3,369.3 643.8,368.7 644.3,368.0 644.8,367.3 645.3,366.6 645.8,365.8 647.2,365.0 647.7,364.3 648.2,363.5 648.7,362.7 649.2,362.0 650.7,361.3 651.2,360.7 651.7,360.0 652.2,359.3 652.6,358.6 654.1,357.8 654.6,357.1 655.1,356.4 655.6,355.7 656.1,355.1 657.5,354.4 658.0,353.8 658.5,353.1 659.0,352.5 659.5,352.0 661.0,351.5 661.5,351.0 662.0,350.5 662.5,350.1 662.9,349.6 664.4,349.2 664.9,348.7 665.4,348.1 665.9,347.6 666.4,347.0 667.9,346.4 668.3,345.8 668.8,345.2 669.3,344.7 669.8,344.2 671.8,343.8 672.3,343.3 672.8,342.8 673.2,342.3 674.7,341.7 675.2,341.3 675.7,340.8 676.2,340.4 676.7,339.9 678.2,339.5 678.6,339.1 679.1,338.8 679.6,338.5 680.1,338.1 681.6,337.8 682.1,337.4 682.6,337.1 683.1,336.8 683.5,336.6 685.0,336.3 685.5,336.0 686.0,335.7 686.5,335.3 687.0,334.9 688.5,334.5 688.9,334.1 689.4,333.7 689.9,333.3 690.4,332.9 691.9,332.6 692.4,332.3 692.9,332.0 693.4,331.8 693.8,331.6 695.3,331.4 695.8,331.4 696.3,331.3 696.8,331.4 697.3,331.5 698.8,331.4 699.2,331.4 699.7,331.3 700.2,331.2 700.7,331.1 702.2,330.9 702.7,330.8 703.2,330.8 703.7,330.7 704.1,330.6 705.6,330.4 706.1,330.3 706.6,330.1 707.1,329.9 707.6,329.7 709.1,329.4 709.5,329.2 710.0,328.9 711.0,328.7 712.5,328.4 713.0,328.1 713.5,327.8 714.0,327.5 714.5,327.2 715.9,326.8 716.4,326.5 716.9,326.1 717.4,325.7 717.9,325.3 719.4,324.8 719.8,324.4 720.3,323.9 720.8,323.5 721.3,323.0 722.8,322.6 723.3,322.2 723.8,321.8 724.3,321.3 724.8,320.8 726.7,320.3 727.2,319.8 727.7,319.3 728.2,318.8 730.1,318.3 730.6,317.8 731.1,317.3 731.6,316.8 733.1,316.3 733.6,315.8 734.1,315.3 734.6,314.8 735.1,314.3 737.0,313.8 737.5,313.3 738.0,312.8 738.5,312.4 740.0,311.8 740.4,311.3 740.9,310.8 741.4,310.3 741.9,309.8 743.4,309.3 743.9,308.7 744.4,308.1 744.9,307.5 745.4,306.9 746.8,306.3 747.3,305.7 747.8,305.1 748.3,304.5 748.8,303.9 750.3,303.2 750.7,302.6 751.2,302.0 751.7,301.3 752.2,300.7 754.2,300.2 754.7,299.7 755.2,299.2 755.7,298.6 757.1,297.9 757.6,297.3 758.1,296.6 758.6,296.0 759.1,295.4 760.6,294.8 761.0,294.3 761.5,293.7 762.0,293.1 762.5,292.5 764.0,291.9 764.5,291.2 765.0,290.5 765.5,289.7 766.0,289.0 767.4,288.2 767.9,287.4 768.4,286.6 768.9,285.9 769.4,285.3 770.9,284.5 771.4,283.8 771.8,283.0 772.3,282.3 774.3,281.6 774.8,280.9 775.3,280.2 775.8,279.6 776.3,278.9 777.7,278.3 778.2,277.6 778.7,276.9 779.2,276.4 779.7,275.8 781.2,275.3 781.7,274.9 782.1,274.4 782.6,274.0 783.1,273.6 784.6,273.1 785.1,272.6 785.6,272.2 786.1,271.8 786.6,271.4 788.0,271.1 788.5,270.8 789.0,270.5 789.5,270.1 790.0,269.8 791.5,269.4 792.0,269.0 792.4,268.6 792.9,268.2 793.4,267.8 794.9,267.4 795.4,267.0 795.9,266.5 796.4,266.1 796.9,265.6 798.3,265.2 798.8,264.7 799.3,264.3 799.8,263.9 800.3,263.5 802.3,263.2 802.7,262.8 803.2,262.5 803.7,262.2 805.2,261.9 805.7,261.5 806.2,261.1 806.7,260.8 807.2,260.4 808.6,260.1 809.1,259.8 809.6,259.5 810.1,259.3 810.6,259.0 812.1,258.8 812.6,258.5 813.5,258.2 814.0,258.0 815.5,257.7 816.0,257.4 816.5,257.1 817.0,256.9 817.5,256.7 818.9,256.5 819.4,256.3 819.9,256.1 820.9,255.9 822.4,255.8 822.9,255.5 823.3,255.3 823.8,255.0 824.3,254.7 825.8,254.4 826.3,254.1 826.8,253.7 827.3,253.3 827.8,252.9 829.2,252.7 829.7,252.4 830.2,252.2 830.7,251.9 831.2,251.6 832.7,251.2 833.2,250.8 833.6,250.4 834.1,250.0 834.6,249.5 836.1,249.1 836.6,248.7 837.1,248.2 837.6,247.7 838.1,247.2 839.5,246.7 840.0,246.1 840.5,245.4 841.0,244.7 841.5,244.1 843.0,243.5 843.5,242.9 843.9,242.4 844.4,241.8 844.9,241.3 846.4,240.7 846.9,240.1 847.4,239.5 847.9,238.8 848.4,238.3 850.3,237.7 850.8,237.1 851.3,236.5 851.8,236.0 853.3,235.5 853.8,235.0 854.2,234.4 854.7,233.8 855.2,233.3 856.7,232.7 857.2,232.1 857.7,231.5 858.2,230.9 858.7,230.3 860.1,229.8 860.6,229.2 861.1,228.7 861.6,228.1 862.1,227.6 863.6,227.1 864.1,226.6 864.5,226.1 865.0,225.6 865.5,225.1 867.0,224.5 867.5,224.0 868.0,223.5 868.5,223.0 869.0,222.4 870.4,221.8 870.9,221.2 871.4,220.6 871.9,219.9 872.4,219.3 873.9,218.6 874.4,218.0 874.9,217.4 875.3,216.9 875.8,216.3 877.3,215.8 877.8,215.2 878.3,214.7 878.8,214.2 879.3,213.8 880.7,213.2 881.2,212.7 881.7,212.1 882.2,211.5 882.7,210.9 884.2,210.3 884.7,209.8 885.2,209.3 885.6,208.9 886.1,208.5 887.6,208.1 888.1,207.7 888.6,207.3 889.1,206.9 889.6,206.5 891.0,206.0 891.5,205.5 892.0,205.1 893.0,204.6 894.5,204.2 895.0,203.9 895.5,203.4 895.9,202.9 896.4,202.5 897.9,202.0 898.4,201.6 898.9,201.2 899.4,200.9 899.9,200.5 901.3,200.1 901.8,199.7 902.3,199.3 902.8,199.0 903.3,198.6 904.8,198.1 905.3,197.7 906.2,197.3 906.7,196.9 908.2,196.6 908.7,196.2 909.7,196.0 910.2,195.7 911.6,195.5 912.1,195.3 912.6,195.1 913.6,194.9 915.1,194.7 915.6,194.5 916.1,194.2 916.5,193.9 917.0,193.5 919.0,193.2 919.5,192.8 920.0,192.3 920.5,191.9 921.9,191.4 922.4,190.8 922.9,190.2 923.4,189.5 923.9,188.8 925.4,188.1 925.9,187.4 926.4,186.6 926.8,185.8 927.3,185.1 928.8,184.4 929.3,183.7 929.8,183.0 930.3,182.3 930.8,181.4 932.7,180.6 933.2,179.7 933.7,178.9 934.2,178.2 935.7,177.5 936.2,176.7 936.7,175.9 937.1,175.1 937.6,174.3 939.1,173.6 939.6,172.9 940.1,172.2 940.6,171.6 941.1,171.0 942.5,170.6 943.0,170.1 943.5,169.6 944.0,169.1 944.5,168.6 946.0,168.0 946.5,167.4 947.0,166.8 947.4,166.2 947.9,165.6 949.4,164.9 949.9,164.2 950.4,163.5 950.9,162.7 951.4,162.0 952.8,161.3 953.3,160.7 953.8,160.1 954.3,159.5 954.8,159.1 956.3,158.8 956.8,158.6 957.3,158.4 957.7,158.0 958.2,157.6 959.7,157.2 960.2,156.7 960.7,156.2 961.2,155.7 963.1,155.1 963.6,154.5 964.1,153.8 964.6,153.2 965.1,152.5 966.6,151.8 967.1,151.0 967.6,150.3 968.0,149.5 968.5,148.7 970.0,147.9 970.5,147.2 971.0,146.3 971.5,145.4 972.0,144.5 973.4,143.5 973.9,142.5 974.4,141.6 974.9,140.7 975.4,139.8 976.9,139.0 977.4,138.2 977.9,137.4 978.4,136.6 978.8,135.9 980.8,135.0 981.3,134.2 981.8,133.3 982.3,132.5 983.7,131.6 984.2,130.8 984.7,130.0 985.2,129.2 985.7,128.3 987.2,127.5 987.7,126.7 988.2,125.9 988.7,125.1 989.1,124.5 990.6,123.9 991.1,123.5 991.6,123.1 992.6,122.7 994.0,122.3 994.5,121.8 995.0,121.3 995.5,120.8 996.0,120.3 997.5,119.9 998.0,119.4 998.5,118.9 999.0,118.4 1000.9,118.0 1001.4,117.5 1001.9,117.1 1002.4,116.6 1002.9,116.2 1004.3,115.8 1004.8,115.3 1005.3,114.9 1005.8,114.5 1006.3,114.0 1007.8,113.6 1008.3,113.1 1008.8,112.6 1009.3,112.1 1009.7,111.6 1011.2,111.2 1011.7,110.8 1012.2,110.3 1012.7,109.9 1013.2,109.4 1014.6,109.0 1015.1,108.6 1015.6,108.2 1016.1,107.9 1016.6,107.4 1018.1,107.0 1018.6,106.5 1019.1,106.0 1019.6,105.5 1020.0,104.9 1021.5,104.4 1022.0,103.7 1022.5,103.1 1023.0,102.4 1023.5,101.8 1024.9,101.2 1025.4,100.7 1025.9,100.2 1026.4,99.7 1026.9,99.3 1028.9,98.8 1029.4,98.4 1029.9,97.9 1030.3,97.5 1031.8,97.0 1032.3,96.6 1032.8,96.2 1033.3,95.7 1033.8,95.2 1035.3,94.8 1035.7,94.3 1036.2,93.9 1036.7,93.4 1037.2,93.0 1038.7,92.7 1039.2,92.4 1039.7,92.1 1040.2,91.8 1040.6,91.5 1042.1,91.2 1042.6,90.9 1043.1,90.6 1043.6,90.3 1044.1,89.9 1045.6,89.6 1046.0,89.3 1046.5,89.0 1047.0,88.7 1047.5,88.5 1049.0,88.2 1049.5,87.9 1050.0,87.7 1050.5,87.6 1050.9,87.3 1052.4,87.0 1052.9,86.7 1053.4,86.3 1053.9,85.9 1054.4,85.5 1055.9,85.0 1056.3,84.6 1056.8,84.3 1057.3,84.0 1057.8,83.8 1059.3,83.6 1059.8,83.4 1060.3,83.2 1060.8,83.1 1061.2,82.9 1062.7,82.8 1063.2,82.7 1063.7,82.7 1064.2,82.8 1064.7,82.9 1066.2,83.1 1066.6,83.3 1067.1,83.5 1067.6,83.7 1068.1,83.8 1069.6,84.0 1070.1,84.1 1070.6,84.2 1071.5,84.3 1073.0,84.4 1073.5,84.5 1074.0,84.5 1074.5,84.6 1075.0,84.7 1076.5,84.9 1076.9,85.0 1077.4,85.0 1077.9,85.0 1078.4,85.0 1079.9,85.1 1080.4,85.1 1080.9,85.0 1081.4,84.8 1081.8,84.7 1083.3,84.4 1083.8,84.0 1084.3,83.7 1085.3,83.3 1086.8,82.9 1087.2,82.6 1087.7,82.3 1088.7,82.0 1090.2,81.7 1090.7,81.4 1091.2,81.1 1091.7,80.8 1092.2,80.6 1093.6,80.6 1094.1,80.6 1094.6,80.6 1095.1,80.6 1095.6,80.6 1097.5,80.6 1098.0,80.5 1098.5,80.4 1099.0,80.1 1100.5,79.8 1101.0,79.6" fill="none" stroke="#800080" stroke-width="2.08" stroke-linejoin="round" stroke-linecap="square"/><path d="M65.50 27.50H1150.50" stroke="#008000" stroke-opacity="0.75" stroke-width="1.39" stroke-dasharray="8.89 2.22 1.39 2.22"/><path d="M65.50 211.50H1150.50" stroke="#ff0000" stroke-opacity="0.75" stroke-width="1.39" stroke-dasharray="8.89 2.22 1.39 2.22"/><path d="M1101.50 9.50V485.50" stroke="#ff0000" stroke-opacity="0.75" stroke-width="1.39" stroke-dasharray="5.14 2.22"/><path d="M65.50 9.50H1150.50V485.50H65.50ZM65.50 500.50H1150.50V659.50H65.50ZM192.50 485.50v5.0M192.50 659.50v5.0M371.50 485.50v5.0M371.50 659.50v5.0M550.50 485.50v5.0M550.50 659.50v5.0M729.50 485.50v5.0M729.50 659.50v5.0M909.50 485.50v5.0M909.50 659.50v5.0M1088.50 485.50v5.0M1088.50 659.50v5.0M65.50 433.50h-5.0M65.50 365.50h-5.0M65.50 298.50h-5.0M65.50 230.50h-5.0M65.50 162.50h-5.0M65.50 95.50h-5.0M65.50 27.50h-5.0M65.50 659.50h-5.0M65.50 622.50h-5.0M65.50 584.50h-5.0M65.50 547.50h-5.0M65.50 509.50h-5.0" stroke="#000" stroke-width="1.11" fill="none" stroke-linecap="butt"/><g font-family="'Liberation Sans','WenQuanYi Zen Hei',sans-serif"><text x="29.91" y="439.00" font-size="13.89" textLength="24.99" lengthAdjust="spacingAndGlyphs" fill="#000">300</text><text x="29.91" y="371.00" font-size="13.89" textLength="24.99" lengthAdjust="spacingAndGlyphs" fill="#000">350</text><text x="29.91" y="303.00" font-size="13.89" textLength="24.99" lengthAdjust="spacingAndGlyphs" fill="#000">400</text><text x="29.91" y="235.00" font-size="13.89" textLength="24.99" lengthAdjust="spacingAndGlyphs" fill="#000">450</text><text x="29.91" y="168.00" font-size="13.89" textLength="24.99" lengthAdjust="spacingAndGlyphs" fill="#000">500</text><text x="29.91" y="100.00" font-size="13.89" textLength="24.99" lengthAdjust="spacingAndGlyphs" fill="#000">550</text><text x="29.91" y="32.00" font-size="13.89" textLength="24.99" lengthAdjust="spacingAndGlyphs" fill="#000">600</text><text x="25.75" y="664.90" font-size="13.89" textLength="29.15" lengthAdjust="spacingAndGlyphs" fill="#000">0.00</text><text x="25.75" y="627.90" font-size="13.89" textLength="29.15" lengthAdjust="spacingAndGlyphs" fill="#000">0.25</text><text x="25.75" y="589.90" font-size="13.89" textLength="29.15" lengthAdjust="spacingAndGlyphs" fill="#000">0.50</text><text x="25.75" y="552.90" font-size="13.89" textLength="29.15" lengthAdjust="spacingAndGlyphs" fill="#000">0.75</text><text x="25.75" y="514.90" font-size="13.89" textLength="29.15" lengthAdjust="spacingAndGlyphs" fill="#000">1.00</text><text x="165.43" y="679.30" font-size="13.89" textLength="54.14" lengthAdjust="spacingAndGlyphs" fill="#000">2021-01</text><text x="344.43" y="679.30" font-size="13.89" textLength="54.14" lengthAdjust="spacingAndGlyphs" fill="#000">2022-01</text><text x="523.43" y="679.30" font-size="13.89" textLength="54.14" lengthAdjust="spacingAndGlyphs" fill="#000">2023-01</text><text x="702.43" y="679.30" font-size="13.89" textLength="54.14" lengthAdjust="spacingAndGlyphs" fill="#000">2024-01</text><text x="882.43" y="679.30" font-size="13.89" textLength="54.14" lengthAdjust="spacingAndGlyphs" fill="#000">2025-01</text><text x="1061.43" y="679.30" font-size="13.89" textLength="54.14" lengthAdjust="spacingAndGlyphs" fill="#000">2026-01</text><text x="64.20" y="496.80" font-size="13.89" textLength="24.14" lengthAdjust="spacingAndGlyphs" fill="#000">1e6</text><text transform="translate(18.8 582.2) rotate(-90)" font-size="13.89" text-anchor="middle" textLength="44.94" lengthAdjust="spacingAndGlyphs">Volume</text></g><g font-family="'Liberation Sans','WenQuanYi Zen Hei',sans-serif"><rect x="72.6" y="16.8" width="108" height="119.6" rx="2.8" fill="#fff" fill-opacity="0.8" stroke="#ccc" stroke-opacity="0.8" stroke-width="1.11"/><path d="M76.8 25.90H106.9" stroke="#000" stroke-width="2.08"/><text x="116.90" y="32.00" font-size="13.89" textLength="34.11" lengthAdjust="spacingAndGlyphs" fill="#000">Close</text><path d="M76.8 46.00H106.9" stroke="#008000" stroke-width="2.08"/><text x="116.90" y="51.30" font-size="13.89" textLength="58.03" lengthAdjust="spacingAndGlyphs" fill="#000">MA50[买]</text><path d="M76.8 66.90H106.9" stroke="#ff0000" stroke-width="2.08"/><text x="116.90" y="72.40" font-size="13.89" textLength="58.03" lengthAdjust="spacingAndGlyphs" fill="#000">MA25[卖]</text><path d="M76.8 85.80H106.9" stroke="#800080" stroke-width="2.08"/><text x="116.90" y="91.30" font-size="13.89" textLength="44.14" lengthAdjust="spacingAndGlyphs" fill="#000">MA200</text><path d="M92.50 96.40L82.70 116.00L102.30 116.00Z" fill="#008000" stroke="#008000" stroke-width="1.39"/><path d="M92.50 134.40L82.70 114.80L102.30 114.80Z" fill="#ff0000" stroke="#ff0000" stroke-width="1.39"/><text x="116.90" y="110.60" font-size="13.89" textLength="21.92" lengthAdjust="spacingAndGlyphs" fill="#000">Buy</text><text x="116.90" y="129.50" font-size="13.89" textLength="22.73" lengthAdjust="spacingAndGlyphs" fill="#000">Sell</text></g><g font-family="'Liberation Sans','WenQuanYi Zen Hei',sans-serif"><rect x="950.8" y="375.9" width="182.2" height="89.1" rx="4.6" fill="#fff" fill-opacity="0.8" stroke="#ff0000" stroke-width="1.11"/><text x="975.60" y="391.70" font-size="15.28" textLength="50.39" lengthAdjust="spacingAndGlyphs" fill="#ff0000">525.45</text><text x="1030.58" y="391.70" font-size="15.28" textLength="41.23" lengthAdjust="spacingAndGlyphs" fill="#ff0000">(-1.98</text><text x="1076.39" y="391.70" font-size="15.28" textLength="51.91" lengthAdjust="spacingAndGlyphs" fill="#ff0000">-0.38%)</text><text x="1018.36" y="408.80" font-size="15.28" textLength="109.94" lengthAdjust="spacingAndGlyphs" fill="#ff0000">463.86~599.70</text><text x="961.25" y="424.30" font-size="15.28" textLength="167.05" lengthAdjust="spacingAndGlyphs" fill="#ff0000">558.27/552.60/561.35</text><text x="1000.03" y="440.80" font-size="15.28" textLength="82.46" lengthAdjust="spacingAndGlyphs" fill="#ff0000">2026-01-27</text><text x="1087.07" y="440.80" font-size="15.28" textLength="41.23" lengthAdjust="spacingAndGlyphs" fill="#ff0000">05:00</text><text x="954.82" y="457.50" font-size="15.28" textLength="173.48" lengthAdjust="spacingAndGlyphs" fill="#ff0000">+0.52/偏多/+1.30/-0.08</text></g><g font-family="'Liberation Sans','WenQuanYi Zen Hei',sans-serif" style="white-space:pre"><text x="64.70" y="716.60" font-size="16.67" textLength="22.99" lengthAdjust="spacingAndGlyphs" fill="#000">MA</text><text x="92.68" y="716.60" font-size="16.67" textLength="71.68" lengthAdjust="spacingAndGlyphs" fill="#000">交易次数:</text><text x="169.36" y="716.60" font-size="16.67" textLength="10.00" lengthAdjust="spacingAndGlyphs" fill="#000">3</text><text x="64.70" y="736.60" font-size="16.67" textLength="105.02" lengthAdjust="spacingAndGlyphs" fill="#000">策略总收益率:</text><text x="174.72" y="736.60" font-size="16.67" textLength="56.64" lengthAdjust="spacingAndGlyphs" fill="#000">53.69%</text><text x="64.70" y="755.60" font-size="16.67" textLength="105.02" lengthAdjust="spacingAndGlyphs" fill="#000">长期持有收益:</text><text x="174.72" y="755.60" font-size="16.67" textLength="56.64" lengthAdjust="spacingAndGlyphs" fill="#000">60.06%</text><text x="64.70" y="775.60" font-size="16.67" textLength="71.68" lengthAdjust="spacingAndGlyphs" fill="#000">交易记录:</text><text x="74.70" y="792.60" font-size="16.67" textLength="26.31" lengthAdjust="spacingAndGlyphs" fill="#000">Buy</text><text x="106.00" y="792.60" font-size="16.67" textLength="34.28" lengthAdjust="spacingAndGlyphs" fill="#000">Date</text><text x="150.28" y="792.60" font-size="16.67" textLength="26.31" lengthAdjust="spacingAndGlyphs" fill="#000">Buy</text><text x="181.59" y="792.60" font-size="16.67" textLength="35.62" lengthAdjust="spacingAndGlyphs" fill="#000">Price</text><text x="227.20" y="792.60" font-size="16.67" textLength="27.28" lengthAdjust="spacingAndGlyphs" fill="#000">Sell</text><text x="259.48" y="792.60" font-size="16.67" textLength="34.28" lengthAdjust="spacingAndGlyphs" fill="#000">Date</text><text x="303.76" y="792.60" font-size="16.67" textLength="27.28" lengthAdjust="spacingAndGlyphs" fill="#000">Sell</text><text x="336.04" y="792.60" font-size="16.67" textLength="35.62" lengthAdjust="spacingAndGlyphs" fill="#000">Price</text><text x="381.66" y="792.60" font-size="16.67" textLength="54.26" lengthAdjust="spacingAndGlyphs" fill="#000">Holding</text><text x="440.91" y="792.60" font-size="16.67" textLength="35.64" lengthAdjust="spacingAndGlyphs" fill="#000">Days</text><text x="486.55" y="792.60" font-size="16.67" textLength="37.95" lengthAdjust="spacingAndGlyphs" fill="#000">Profit</text><text x="529.49" y="792.60" font-size="16.67" textLength="11.66" lengthAdjust="spacingAndGlyphs" fill="#000">%</text><text x="64.70" y="809.80" font-size="16.67" textLength="89.96" lengthAdjust="spacingAndGlyphs" fill="#000">2020-10-15</text><text x="179.65" y="809.80" font-size="16.67" textLength="54.98" lengthAdjust="spacingAndGlyphs" fill="#000">328.28</text><text x="239.62" y="809.80" font-size="16.67" textLength="89.96" lengthAdjust="spacingAndGlyphs" fill="#000">2023-09-21</text><text x="359.57" y="809.80" font-size="16.67" textLength="54.98" lengthAdjust="spacingAndGlyphs" fill="#000">397.53</text><text x="464.52" y="809.80" font-size="16.67" textLength="39.98" lengthAdjust="spacingAndGlyphs" fill="#000">1071</text><text x="529.49" y="809.80" font-size="16.67" textLength="44.98" lengthAdjust="spacingAndGlyphs" fill="#000">21.09</text><text x="64.70" y="827.60" font-size="16.67" textLength="89.96" lengthAdjust="spacingAndGlyphs" fill="#000">2023-09-22</text><text x="179.65" y="827.60" font-size="16.67" textLength="54.98" lengthAdjust="spacingAndGlyphs" fill="#000">396.45</text><text x="239.62" y="827.60" font-size="16.67" textLength="89.96" lengthAdjust="spacingAndGlyphs" fill="#000">2024-10-31</text><text x="359.57" y="827.60" font-size="16.67" textLength="54.98" lengthAdjust="spacingAndGlyphs" fill="#000">495.66</text><text x="469.52" y="827.60" font-size="16.67" textLength="29.99" lengthAdjust="spacingAndGlyphs" fill="#000">405</text><text x="524.49" y="827.60" font-size="16.67" textLength="44.98" lengthAdjust="spacingAndGlyphs" fill="#000">25.02</text><text x="64.70" y="844.80" font-size="16.67" textLength="89.96" lengthAdjust="spacingAndGlyphs" fill="#000">2025-01-03</text><text x="179.65" y="844.80" font-size="16.67" textLength="54.98" lengthAdjust="spacingAndGlyphs" fill="#000">517.60</text><text x="239.62" y="844.80" font-size="16.67" textLength="89.96" lengthAdjust="spacingAndGlyphs" fill="#000">2026-01-27</text><text x="359.57" y="844.80" font-size="16.67" textLength="54.98" lengthAdjust="spacingAndGlyphs" fill="#000">525.45</text><text x="469.52" y="844.80" font-size="16.67" textLength="29.99" lengthAdjust="spacingAndGlyphs" fill="#000">389</text><text x="529.49" y="844.80" font-size="16.67" textLength="34.98" lengthAdjust="spacingAndGlyphs" fill="#000">1.52</text></g></svg>
</body></html>
